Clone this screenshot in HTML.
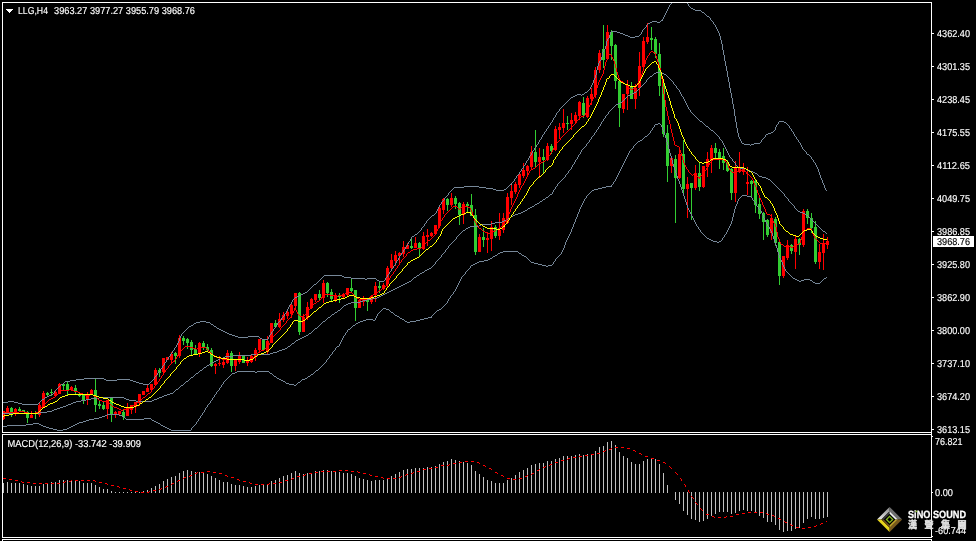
<!DOCTYPE html>
<html lang="en"><head><meta charset="utf-8"><title>LLG,H4</title>
<style>html,body{margin:0;padding:0;background:#000;overflow:hidden}body{width:976px;height:541px}svg{display:block}text{font-family:"Liberation Sans","Noto Sans CJK TC",sans-serif;fill:#fff;stroke:#fff;stroke-width:0.15px}</style></head><body>
<svg width="976" height="541" viewBox="0 0 976 541">
<rect width="976" height="541" fill="#000"/>
<defs><clipPath id="cm"><rect x="3" y="3" width="928" height="429"/></clipPath><clipPath id="cs"><rect x="3" y="435" width="928" height="102"/></clipPath></defs>
<g clip-path="url(#cm)" shape-rendering="crispEdges">
<path fill="#ff0000" d="M3 411h1v9h-1zM2 411h3v8h-3z"/>
<path fill="#ff0000" d="M7 406h1v7h-1zM6 408h3v4h-3z"/>
<path fill="#32cd32" d="M11 407h1v10h-1zM10 408h3v4h-3z"/>
<path fill="#ff0000" d="M15 408h1v8h-1zM14 409h3v3h-3z"/>
<path fill="#32cd32" d="M19 407h1v4h-1zM18 409h3v2h-3z"/>
<path fill="#32cd32" d="M23 410h1v2h-1zM22 410h3v2h-3z"/>
<path fill="#32cd32" d="M27 411h1v12h-1zM26 412h3v6h-3z"/>
<path fill="#ff0000" d="M31 411h1v7h-1zM30 415h3v3h-3z"/>
<path fill="#32cd32" d="M35 411h1v8h-1zM34 413h3v1h-3z"/>
<path fill="#ff0000" d="M39 402h1v15h-1zM38 405h3v10h-3z"/>
<path fill="#ff0000" d="M43 391h1v17h-1zM42 393h3v15h-3z"/>
<path fill="#32cd32" d="M47 392h1v4h-1zM46 393h3v2h-3z"/>
<path fill="#32cd32" d="M51 389h1v7h-1zM50 392h3v1h-3z"/>
<path fill="#ff0000" d="M55 391h1v6h-1zM54 392h3v4h-3z"/>
<path fill="#ff0000" d="M59 383h1v11h-1zM58 384h3v10h-3z"/>
<path fill="#32cd32" d="M63 383h1v7h-1zM62 384h3v2h-3z"/>
<path fill="#32cd32" d="M67 381h1v14h-1zM66 384h3v6h-3z"/>
<path fill="#ff0000" d="M71 386h1v5h-1zM70 387h3v3h-3z"/>
<path fill="#32cd32" d="M75 385h1v10h-1zM74 388h3v4h-3z"/>
<path fill="#32cd32" d="M79 393h1v4h-1zM78 395h3v1h-3z"/>
<path fill="#32cd32" d="M83 395h1v9h-1zM82 395h3v5h-3z"/>
<path fill="#ff0000" d="M87 392h1v13h-1zM86 395h3v5h-3z"/>
<path fill="#ff0000" d="M91 389h1v6h-1zM90 390h3v4h-3z"/>
<path fill="#32cd32" d="M95 379h1v33h-1zM94 390h3v15h-3z"/>
<path fill="#32cd32" d="M99 401h1v8h-1zM98 404h3v2h-3z"/>
<path fill="#32cd32" d="M103 402h1v8h-1zM102 405h3v4h-3z"/>
<path fill="#ff0000" d="M107 400h1v19h-1zM106 400h3v9h-3z"/>
<path fill="#32cd32" d="M111 398h1v24h-1zM110 398h3v16h-3z"/>
<path fill="#ff0000" d="M115 411h1v7h-1zM114 412h3v2h-3z"/>
<path fill="#ff0000" d="M119 411h1v4h-1zM118 411h3v3h-3z"/>
<path fill="#32cd32" d="M123 409h1v11h-1zM122 412h3v5h-3z"/>
<path fill="#ff0000" d="M127 403h1v13h-1zM126 408h3v8h-3z"/>
<path fill="#ff0000" d="M131 405h1v9h-1zM130 405h3v5h-3z"/>
<path fill="#ff0000" d="M135 402h1v11h-1zM134 402h3v5h-3z"/>
<path fill="#ff0000" d="M139 394h1v12h-1zM138 394h3v9h-3z"/>
<path fill="#ff0000" d="M143 391h1v4h-1zM142 391h3v4h-3z"/>
<path fill="#ff0000" d="M147 385h1v7h-1zM146 388h3v4h-3z"/>
<path fill="#ff0000" d="M151 384h1v8h-1zM150 384h3v6h-3z"/>
<path fill="#ff0000" d="M155 368h1v18h-1zM154 370h3v15h-3z"/>
<path fill="#32cd32" d="M159 368h1v9h-1zM158 370h3v3h-3z"/>
<path fill="#ff0000" d="M163 358h1v15h-1zM162 358h3v14h-3z"/>
<path fill="#ff0000" d="M167 357h1v3h-1zM166 357h3v3h-3z"/>
<path fill="#ff0000" d="M171 352h1v11h-1zM170 354h3v6h-3z"/>
<path fill="#32cd32" d="M175 352h1v12h-1zM174 353h3v3h-3z"/>
<path fill="#ff0000" d="M179 335h1v23h-1zM178 338h3v18h-3z"/>
<path fill="#32cd32" d="M183 336h1v9h-1zM182 338h3v3h-3z"/>
<path fill="#32cd32" d="M187 338h1v11h-1zM186 339h3v4h-3z"/>
<path fill="#32cd32" d="M191 340h1v15h-1zM190 342h3v8h-3z"/>
<path fill="#32cd32" d="M195 345h1v10h-1zM194 349h3v5h-3z"/>
<path fill="#ff0000" d="M199 342h1v15h-1zM198 343h3v10h-3z"/>
<path fill="#32cd32" d="M203 341h1v9h-1zM202 343h3v4h-3z"/>
<path fill="#32cd32" d="M207 344h1v7h-1zM206 347h3v3h-3z"/>
<path fill="#32cd32" d="M211 348h1v19h-1zM210 350h3v16h-3z"/>
<path fill="#ff0000" d="M215 363h1v11h-1zM214 364h3v2h-3z"/>
<path fill="#ff0000" d="M219 356h1v10h-1zM218 363h3v1h-3z"/>
<path fill="#ff0000" d="M223 360h1v8h-1zM222 362h3v3h-3z"/>
<path fill="#ff0000" d="M227 350h1v14h-1zM226 353h3v10h-3z"/>
<path fill="#32cd32" d="M231 351h1v21h-1zM230 353h3v13h-3z"/>
<path fill="#ff0000" d="M235 360h1v11h-1zM234 360h3v6h-3z"/>
<path fill="#ff0000" d="M239 352h1v12h-1zM238 356h3v6h-3z"/>
<path fill="#32cd32" d="M243 356h1v7h-1zM242 356h3v7h-3z"/>
<path fill="#ff0000" d="M247 357h1v9h-1zM246 360h3v3h-3z"/>
<path fill="#ff0000" d="M251 355h1v8h-1zM250 356h3v6h-3z"/>
<path fill="#ff0000" d="M255 348h1v13h-1zM254 350h3v6h-3z"/>
<path fill="#ff0000" d="M259 339h1v14h-1zM258 339h3v11h-3z"/>
<path fill="#32cd32" d="M263 339h1v12h-1zM262 339h3v11h-3z"/>
<path fill="#ff0000" d="M267 336h1v18h-1zM266 341h3v11h-3z"/>
<path fill="#ff0000" d="M271 323h1v20h-1zM270 323h3v20h-3z"/>
<path fill="#32cd32" d="M275 320h1v8h-1zM274 323h3v4h-3z"/>
<path fill="#ff0000" d="M279 313h1v15h-1zM278 319h3v8h-3z"/>
<path fill="#ff0000" d="M283 312h1v10h-1zM282 315h3v5h-3z"/>
<path fill="#ff0000" d="M287 311h1v8h-1zM286 312h3v4h-3z"/>
<path fill="#ff0000" d="M291 303h1v15h-1zM290 305h3v9h-3z"/>
<path fill="#ff0000" d="M295 293h1v17h-1zM294 293h3v13h-3z"/>
<path fill="#32cd32" d="M299 292h1v43h-1zM298 293h3v39h-3z"/>
<path fill="#ff0000" d="M303 314h1v18h-1zM302 317h3v15h-3z"/>
<path fill="#ff0000" d="M307 302h1v18h-1zM306 307h3v11h-3z"/>
<path fill="#ff0000" d="M311 298h1v11h-1zM310 299h3v9h-3z"/>
<path fill="#ff0000" d="M315 294h1v8h-1zM314 294h3v6h-3z"/>
<path fill="#32cd32" d="M319 290h1v11h-1zM318 294h3v4h-3z"/>
<path fill="#ff0000" d="M323 280h1v23h-1zM322 283h3v15h-3z"/>
<path fill="#32cd32" d="M327 282h1v15h-1zM326 283h3v10h-3z"/>
<path fill="#32cd32" d="M331 289h1v12h-1zM330 292h3v7h-3z"/>
<path fill="#ff0000" d="M335 293h1v9h-1zM334 295h3v5h-3z"/>
<path fill="#32cd32" d="M339 293h1v10h-1zM338 295h3v2h-3z"/>
<path fill="#ff0000" d="M343 293h1v5h-1zM342 294h3v3h-3z"/>
<path fill="#ff0000" d="M347 288h1v9h-1zM346 288h3v7h-3z"/>
<path fill="#32cd32" d="M351 279h1v14h-1zM350 288h3v3h-3z"/>
<path fill="#32cd32" d="M355 290h1v31h-1zM354 290h3v18h-3z"/>
<path fill="#ff0000" d="M359 299h1v9h-1zM358 300h3v8h-3z"/>
<path fill="#ff0000" d="M363 296h1v10h-1zM362 299h3v3h-3z"/>
<path fill="#32cd32" d="M367 300h1v11h-1zM366 300h3v2h-3z"/>
<path fill="#ff0000" d="M371 295h1v9h-1zM370 296h3v6h-3z"/>
<path fill="#ff0000" d="M375 282h1v20h-1zM374 286h3v9h-3z"/>
<path fill="#32cd32" d="M379 282h1v11h-1zM378 286h3v2h-3z"/>
<path fill="#ff0000" d="M383 283h1v7h-1zM382 285h3v4h-3z"/>
<path fill="#ff0000" d="M387 266h1v21h-1zM386 268h3v16h-3z"/>
<path fill="#ff0000" d="M391 254h1v15h-1zM390 260h3v8h-3z"/>
<path fill="#ff0000" d="M395 251h1v15h-1zM394 255h3v6h-3z"/>
<path fill="#ff0000" d="M399 252h1v12h-1zM398 253h3v3h-3z"/>
<path fill="#ff0000" d="M403 241h1v16h-1zM402 247h3v7h-3z"/>
<path fill="#ff0000" d="M407 243h1v6h-1zM406 245h3v4h-3z"/>
<path fill="#32cd32" d="M411 237h1v12h-1zM410 246h3v2h-3z"/>
<path fill="#ff0000" d="M415 237h1v11h-1zM414 243h3v5h-3z"/>
<path fill="#32cd32" d="M419 242h1v14h-1zM418 243h3v5h-3z"/>
<path fill="#ff0000" d="M423 232h1v18h-1zM422 236h3v13h-3z"/>
<path fill="#ff0000" d="M427 229h1v17h-1zM426 235h3v2h-3z"/>
<path fill="#ff0000" d="M431 232h1v5h-1zM430 233h3v3h-3z"/>
<path fill="#ff0000" d="M435 225h1v10h-1zM434 225h3v9h-3z"/>
<path fill="#ff0000" d="M439 205h1v23h-1zM438 208h3v18h-3z"/>
<path fill="#ff0000" d="M443 198h1v16h-1zM442 199h3v11h-3z"/>
<path fill="#32cd32" d="M447 198h1v13h-1zM446 199h3v6h-3z"/>
<path fill="#ff0000" d="M451 193h1v14h-1zM450 198h3v7h-3z"/>
<path fill="#32cd32" d="M455 196h1v13h-1zM454 198h3v6h-3z"/>
<path fill="#32cd32" d="M459 202h1v23h-1zM458 203h3v12h-3z"/>
<path fill="#ff0000" d="M463 202h1v22h-1zM462 204h3v11h-3z"/>
<path fill="#32cd32" d="M467 202h1v10h-1zM466 204h3v2h-3z"/>
<path fill="#32cd32" d="M471 194h1v22h-1zM470 205h3v11h-3z"/>
<path fill="#32cd32" d="M475 209h1v46h-1zM474 215h3v37h-3z"/>
<path fill="#ff0000" d="M479 234h1v18h-1zM478 237h3v15h-3z"/>
<path fill="#32cd32" d="M483 228h1v19h-1zM482 237h3v3h-3z"/>
<path fill="#ff0000" d="M487 232h1v21h-1zM486 238h3v2h-3z"/>
<path fill="#ff0000" d="M491 221h1v30h-1zM490 227h3v12h-3z"/>
<path fill="#32cd32" d="M495 225h1v13h-1zM494 227h3v9h-3z"/>
<path fill="#ff0000" d="M499 213h1v27h-1zM498 230h3v6h-3z"/>
<path fill="#ff0000" d="M503 213h1v20h-1zM502 218h3v12h-3z"/>
<path fill="#ff0000" d="M507 193h1v31h-1zM506 197h3v26h-3z"/>
<path fill="#ff0000" d="M511 184h1v21h-1zM510 191h3v7h-3z"/>
<path fill="#ff0000" d="M515 182h1v12h-1zM514 184h3v8h-3z"/>
<path fill="#ff0000" d="M519 173h1v15h-1zM518 174h3v11h-3z"/>
<path fill="#ff0000" d="M523 163h1v15h-1zM522 170h3v6h-3z"/>
<path fill="#ff0000" d="M527 165h1v10h-1zM526 166h3v5h-3z"/>
<path fill="#ff0000" d="M531 146h1v23h-1zM530 152h3v15h-3z"/>
<path fill="#32cd32" d="M535 130h1v37h-1zM534 152h3v10h-3z"/>
<path fill="#ff0000" d="M539 148h1v30h-1zM538 157h3v5h-3z"/>
<path fill="#32cd32" d="M543 149h1v24h-1zM542 157h3v3h-3z"/>
<path fill="#ff0000" d="M547 143h1v18h-1zM546 146h3v14h-3z"/>
<path fill="#32cd32" d="M551 144h1v10h-1zM550 146h3v5h-3z"/>
<path fill="#ff0000" d="M555 126h1v25h-1zM554 129h3v21h-3z"/>
<path fill="#ff0000" d="M559 123h1v16h-1zM558 127h3v3h-3z"/>
<path fill="#ff0000" d="M563 109h1v24h-1zM562 123h3v5h-3z"/>
<path fill="#32cd32" d="M567 116h1v14h-1zM566 123h3v1h-3z"/>
<path fill="#ff0000" d="M571 113h1v17h-1zM570 120h3v4h-3z"/>
<path fill="#ff0000" d="M575 112h1v12h-1zM574 115h3v6h-3z"/>
<path fill="#ff0000" d="M579 101h1v19h-1zM578 102h3v14h-3z"/>
<path fill="#32cd32" d="M583 97h1v21h-1zM582 103h3v12h-3z"/>
<path fill="#ff0000" d="M587 96h1v22h-1zM586 98h3v19h-3z"/>
<path fill="#ff0000" d="M591 88h1v17h-1zM590 94h3v5h-3z"/>
<path fill="#ff0000" d="M595 67h1v31h-1zM594 70h3v25h-3z"/>
<path fill="#ff0000" d="M599 50h1v23h-1zM598 53h3v17h-3z"/>
<path fill="#32cd32" d="M603 25h1v43h-1zM602 49h3v11h-3z"/>
<path fill="#ff0000" d="M607 25h1v35h-1zM606 32h3v27h-3z"/>
<path fill="#32cd32" d="M611 30h1v30h-1zM610 32h3v14h-3z"/>
<path fill="#32cd32" d="M615 44h1v45h-1zM614 45h3v36h-3z"/>
<path fill="#32cd32" d="M619 81h1v46h-1zM618 81h3v27h-3z"/>
<path fill="#ff0000" d="M623 94h1v19h-1zM622 94h3v15h-3z"/>
<path fill="#ff0000" d="M627 80h1v30h-1zM626 86h3v8h-3z"/>
<path fill="#32cd32" d="M631 82h1v17h-1zM630 86h3v13h-3z"/>
<path fill="#ff0000" d="M635 84h1v25h-1zM634 88h3v11h-3z"/>
<path fill="#ff0000" d="M639 52h1v44h-1zM638 66h3v22h-3z"/>
<path fill="#ff0000" d="M643 37h1v31h-1zM642 41h3v26h-3z"/>
<path fill="#ff0000" d="M647 23h1v21h-1zM646 37h3v5h-3z"/>
<path fill="#32cd32" d="M651 27h1v23h-1zM650 38h3v2h-3z"/>
<path fill="#32cd32" d="M655 37h1v21h-1zM654 39h3v15h-3z"/>
<path fill="#32cd32" d="M659 43h1v53h-1zM658 54h3v32h-3z"/>
<path fill="#32cd32" d="M663 81h1v56h-1zM662 85h3v49h-3z"/>
<path fill="#32cd32" d="M667 125h1v57h-1zM666 133h3v33h-3z"/>
<path fill="#ff0000" d="M671 158h1v15h-1zM670 158h3v8h-3z"/>
<path fill="#32cd32" d="M675 155h1v68h-1zM674 159h3v19h-3z"/>
<path fill="#ff0000" d="M679 147h1v32h-1zM678 154h3v24h-3z"/>
<path fill="#32cd32" d="M683 140h1v54h-1zM682 154h3v35h-3z"/>
<path fill="#ff0000" d="M687 177h1v41h-1zM686 184h3v5h-3z"/>
<path fill="#32cd32" d="M691 183h1v37h-1zM690 183h3v5h-3z"/>
<path fill="#ff0000" d="M695 165h1v25h-1zM694 173h3v15h-3z"/>
<path fill="#32cd32" d="M699 163h1v28h-1zM698 173h3v14h-3z"/>
<path fill="#ff0000" d="M703 166h1v22h-1zM702 166h3v21h-3z"/>
<path fill="#ff0000" d="M707 152h1v25h-1zM706 159h3v8h-3z"/>
<path fill="#ff0000" d="M711 145h1v28h-1zM710 148h3v12h-3z"/>
<path fill="#32cd32" d="M715 143h1v15h-1zM714 148h3v5h-3z"/>
<path fill="#32cd32" d="M719 149h1v20h-1zM718 152h3v6h-3z"/>
<path fill="#32cd32" d="M723 148h1v22h-1zM722 156h3v7h-3z"/>
<path fill="#32cd32" d="M727 160h1v12h-1zM726 163h3v8h-3z"/>
<path fill="#32cd32" d="M731 168h1v32h-1zM730 169h3v24h-3z"/>
<path fill="#ff0000" d="M735 161h1v41h-1zM734 168h3v25h-3z"/>
<path fill="#ff0000" d="M739 152h1v21h-1zM738 168h3v4h-3z"/>
<path fill="#ff0000" d="M743 163h1v12h-1zM742 169h3v3h-3z"/>
<path fill="#ff0000" d="M747 167h1v28h-1zM746 182h3v2h-3z"/>
<path fill="#32cd32" d="M751 180h1v17h-1zM750 181h3v3h-3z"/>
<path fill="#32cd32" d="M755 180h1v33h-1zM754 181h3v24h-3z"/>
<path fill="#32cd32" d="M759 198h1v21h-1zM758 204h3v10h-3z"/>
<path fill="#32cd32" d="M763 212h1v28h-1zM762 213h3v9h-3z"/>
<path fill="#32cd32" d="M767 219h1v18h-1zM766 220h3v15h-3z"/>
<path fill="#ff0000" d="M771 214h1v26h-1zM770 218h3v15h-3z"/>
<path fill="#32cd32" d="M775 217h1v29h-1zM774 219h3v24h-3z"/>
<path fill="#32cd32" d="M779 242h1v43h-1zM778 242h3v34h-3z"/>
<path fill="#ff0000" d="M783 256h1v22h-1zM782 256h3v20h-3z"/>
<path fill="#ff0000" d="M787 240h1v20h-1zM786 245h3v13h-3z"/>
<path fill="#32cd32" d="M791 244h1v10h-1zM790 245h3v6h-3z"/>
<path fill="#ff0000" d="M795 236h1v33h-1zM794 239h3v13h-3z"/>
<path fill="#32cd32" d="M799 238h1v17h-1zM798 239h3v6h-3z"/>
<path fill="#ff0000" d="M803 209h1v38h-1zM802 211h3v34h-3z"/>
<path fill="#32cd32" d="M807 209h1v15h-1zM806 211h3v7h-3z"/>
<path fill="#32cd32" d="M811 213h1v20h-1zM810 218h3v10h-3z"/>
<path fill="#32cd32" d="M815 221h1v43h-1zM814 227h3v35h-3z"/>
<path fill="#ff0000" d="M819 244h1v25h-1zM818 252h3v10h-3z"/>
<path fill="#ff0000" d="M823 234h1v36h-1zM822 244h3v9h-3z"/>
<path fill="#ff0000" d="M827 237h1v12h-1zM826 241h3v4h-3z"/>
</g>
<path clip-path="url(#cm)" fill="#778899" shape-rendering="crispEdges" d="M3 402h5v1h-5zM8 401h6v1h-6zM14 402h4v1h-4zM18 403h4v1h-4zM22 404h16v1h-16zM38 403h1v1h-1zM39 402h1v1h-1zM40 401h1v1h-1zM41 400h1v1h-1zM42 399h2v1h-2zM44 398h1v1h-1zM45 397h2v1h-2zM47 396h2v1h-2zM49 395h2v1h-2zM51 394h2v1h-2zM53 393h1v1h-1zM54 391h1v2h-1zM55 390h1v1h-1zM56 389h1v1h-1zM57 388h1v1h-1zM58 387h1v1h-1zM59 386h1v1h-1zM60 385h1v1h-1zM61 384h2v1h-2zM63 383h1v1h-1zM64 382h1v1h-1zM65 381h5v1h-5zM70 380h6v1h-6zM76 379h8v1h-8zM84 378h20v1h-20zM104 379h2v1h-2zM106 380h11v1h-11zM117 379h13v1h-13zM130 380h3v1h-3zM133 381h3v1h-3zM136 382h3v1h-3zM139 383h4v1h-4zM143 384h6v1h-6zM149 383h1v1h-1zM150 382h1v1h-1zM151 381h1v1h-1zM152 380h1v1h-1zM153 379h1v1h-1zM154 377h1v2h-1zM155 376h1v1h-1zM156 375h1v1h-1zM157 373h1v2h-1zM158 372h1v1h-1zM159 371h1v1h-1zM160 369h1v2h-1zM161 368h1v1h-1zM162 366h1v2h-1zM163 365h1v1h-1zM164 363h1v2h-1zM165 362h1v1h-1zM166 360h1v2h-1zM167 359h1v1h-1zM168 357h1v2h-1zM169 356h1v1h-1zM170 354h1v2h-1zM171 353h1v1h-1zM172 351h1v2h-1zM173 350h1v1h-1zM174 348h1v2h-1zM175 347h1v1h-1zM176 345h1v2h-1zM177 343h1v2h-1zM178 341h1v2h-1zM179 338h1v3h-1zM180 336h1v2h-1zM181 334h1v2h-1zM182 333h1v1h-1zM183 332h1v1h-1zM184 331h1v1h-1zM185 330h1v1h-1zM186 329h1v1h-1zM187 328h1v1h-1zM188 327h1v1h-1zM189 326h2v1h-2zM191 325h2v1h-2zM193 324h1v1h-1zM194 323h2v1h-2zM196 322h4v1h-4zM200 321h6v1h-6zM206 322h4v1h-4zM210 323h1v1h-1zM211 324h2v1h-2zM213 325h1v1h-1zM214 326h2v1h-2zM216 327h1v1h-1zM217 328h2v1h-2zM219 329h2v1h-2zM221 330h2v1h-2zM223 331h2v1h-2zM225 332h2v1h-2zM227 333h2v1h-2zM229 334h3v1h-3zM232 335h3v1h-3zM235 336h3v1h-3zM238 337h10v1h-10zM248 336h11v1h-11zM259 337h1v1h-1zM260 338h2v1h-2zM262 339h6v1h-6zM268 337h1v2h-1zM269 335h1v2h-1zM270 334h1v1h-1zM271 332h1v2h-1zM272 331h1v1h-1zM273 329h1v2h-1zM274 328h1v1h-1zM275 326h1v2h-1zM276 325h1v1h-1zM277 323h1v2h-1zM278 322h1v1h-1zM279 321h1v1h-1zM280 320h1v1h-1zM281 318h1v2h-1zM282 317h1v1h-1zM283 316h1v1h-1zM284 314h1v2h-1zM285 313h1v1h-1zM286 311h1v2h-1zM287 309h1v2h-1zM288 307h1v2h-1zM289 305h1v2h-1zM290 304h1v1h-1zM291 302h1v2h-1zM292 300h1v2h-1zM293 299h1v1h-1zM294 298h1v1h-1zM295 297h2v1h-2zM297 296h2v1h-2zM299 295h2v1h-2zM301 294h2v1h-2zM303 293h2v1h-2zM305 292h2v1h-2zM307 291h1v1h-1zM308 290h1v1h-1zM309 289h1v1h-1zM310 288h1v1h-1zM311 287h1v1h-1zM312 286h1v1h-1zM313 285h1v1h-1zM314 284h2v1h-2zM316 283h1v1h-1zM317 282h1v1h-1zM318 281h1v1h-1zM319 280h1v1h-1zM320 279h1v1h-1zM321 278h1v1h-1zM322 277h1v1h-1zM323 276h1v1h-1zM324 275h18v1h-18zM342 276h2v1h-2zM344 277h7v1h-7zM351 278h14v1h-14zM365 279h2v1h-2zM367 278h9v1h-9zM376 279h1v1h-1zM377 280h2v1h-2zM379 281h5v1h-5zM384 280h1v1h-1zM385 278h1v2h-1zM386 277h1v1h-1zM387 275h1v2h-1zM388 274h1v1h-1zM389 272h1v2h-1zM390 271h1v1h-1zM391 269h1v2h-1zM392 268h1v1h-1zM393 266h1v2h-1zM394 265h1v1h-1zM395 263h1v2h-1zM396 261h1v2h-1zM397 260h1v1h-1zM398 258h1v2h-1zM399 256h1v2h-1zM400 255h1v1h-1zM401 253h1v2h-1zM402 252h1v1h-1zM403 250h1v2h-1zM404 249h1v1h-1zM405 247h1v2h-1zM406 246h1v1h-1zM407 244h1v2h-1zM408 242h1v2h-1zM409 241h1v1h-1zM410 239h1v2h-1zM411 237h1v2h-1zM412 236h2v1h-2zM414 235h1v1h-1zM415 234h2v1h-2zM417 233h1v1h-1zM418 232h1v1h-1zM419 231h1v1h-1zM420 230h1v1h-1zM421 228h1v2h-1zM422 227h1v1h-1zM423 226h1v1h-1zM424 224h1v2h-1zM425 223h1v1h-1zM426 221h1v2h-1zM427 220h1v1h-1zM428 219h1v1h-1zM429 218h1v1h-1zM430 217h1v1h-1zM431 216h1v1h-1zM432 215h2v1h-2zM434 214h1v1h-1zM435 213h1v1h-1zM436 211h1v2h-1zM437 209h1v2h-1zM438 207h1v2h-1zM439 205h1v2h-1zM440 204h1v1h-1zM441 202h1v2h-1zM442 201h1v1h-1zM443 200h1v1h-1zM444 198h1v2h-1zM445 197h1v1h-1zM446 196h1v1h-1zM447 195h1v1h-1zM448 193h1v2h-1zM449 192h1v1h-1zM450 191h1v1h-1zM451 190h1v1h-1zM452 189h1v1h-1zM453 188h1v1h-1zM454 187h10v1h-10zM464 186h15v1h-15zM479 187h7v1h-7zM486 188h7v1h-7zM493 189h3v1h-3zM496 190h8v1h-8zM504 189h2v1h-2zM506 188h1v1h-1zM507 187h1v1h-1zM508 186h1v1h-1zM509 185h1v1h-1zM510 184h1v1h-1zM511 183h1v2h-1zM512 182h1v1h-1zM513 181h1v1h-1zM514 179h1v2h-1zM515 178h1v1h-1zM516 176h1v2h-1zM517 175h1v1h-1zM518 174h1v1h-1zM519 172h1v2h-1zM520 171h1v1h-1zM521 169h1v2h-1zM522 168h1v1h-1zM523 166h1v2h-1zM524 165h1v1h-1zM525 163h1v2h-1zM526 161h1v2h-1zM527 160h1v1h-1zM528 158h1v2h-1zM529 156h1v2h-1zM530 155h1v1h-1zM531 153h1v2h-1zM532 151h1v2h-1zM533 150h1v1h-1zM534 148h1v2h-1zM535 147h1v1h-1zM536 145h1v2h-1zM537 144h1v1h-1zM538 142h1v2h-1zM539 140h1v2h-1zM540 139h1v1h-1zM541 137h1v2h-1zM542 135h1v2h-1zM543 134h1v1h-1zM544 132h1v2h-1zM545 131h1v1h-1zM546 129h1v2h-1zM547 128h1v1h-1zM548 126h1v2h-1zM549 125h1v1h-1zM550 123h1v2h-1zM551 122h1v1h-1zM552 120h1v2h-1zM553 118h1v2h-1zM554 117h1v1h-1zM555 115h1v2h-1zM556 113h1v2h-1zM557 112h1v1h-1zM558 111h1v1h-1zM559 109h1v2h-1zM560 108h1v1h-1zM561 107h1v1h-1zM562 106h1v1h-1zM563 105h1v1h-1zM564 104h1v1h-1zM565 103h1v1h-1zM566 102h1v1h-1zM567 101h1v1h-1zM568 100h1v1h-1zM569 99h1v1h-1zM570 98h1v1h-1zM571 97h2v1h-2zM573 96h2v1h-2zM575 95h2v1h-2zM577 94h4v1h-4zM581 95h1v1h-1zM582 94h2v1h-2zM584 93h1v1h-1zM585 92h2v1h-2zM587 91h1v1h-1zM588 90h1v1h-1zM589 89h1v1h-1zM590 87h1v2h-1zM591 85h1v2h-1zM592 83h1v2h-1zM593 80h1v3h-1zM594 78h1v2h-1zM595 75h1v3h-1zM596 70h1v5h-1zM597 66h1v4h-1zM598 63h1v3h-1zM599 61h1v2h-1zM600 60h1v1h-1zM601 57h1v3h-1zM602 52h1v5h-1zM603 50h1v2h-1zM604 49h1v1h-1zM605 46h1v3h-1zM606 41h1v5h-1zM607 39h1v2h-1zM608 38h1v1h-1zM609 35h1v3h-1zM610 32h1v3h-1zM611 31h6v1h-6zM617 32h3v1h-3zM620 33h3v1h-3zM623 34h2v1h-2zM625 35h3v1h-3zM628 36h2v1h-2zM630 37h5v1h-5zM635 36h4v1h-4zM639 35h1v1h-1zM640 34h1v1h-1zM641 32h1v2h-1zM642 30h1v2h-1zM643 29h1v1h-1zM644 28h1v1h-1zM645 27h1v1h-1zM646 25h1v2h-1zM647 24h1v1h-1zM648 23h2v1h-2zM650 22h2v1h-2zM652 21h5v1h-5zM657 22h3v1h-3zM660 21h1v1h-1zM661 20h1v1h-1zM662 19h1v2h-1zM663 17h1v2h-1zM664 15h1v2h-1zM665 13h1v2h-1zM666 11h1v2h-1zM667 9h1v2h-1zM668 7h1v2h-1zM669 5h1v2h-1zM670 4h1v1h-1zM671 3h1v1h-1zM672 2h1v1h-1zM673 1h1v1h-1zM674 0h2v1h-2zM676 -1h2v1h-2zM678 -2h5v1h-5zM683 -1h2v1h-2zM685 0h1v1h-1zM686 1h1v2h-1zM687 3h1v1h-1zM688 4h1v2h-1zM689 6h1v1h-1zM690 7h1v1h-1zM691 8h2v1h-2zM693 9h2v1h-2zM695 10h6v1h-6zM701 11h1v1h-1zM702 12h2v1h-2zM704 13h1v1h-1zM705 14h1v1h-1zM706 15h1v1h-1zM707 16h2v1h-2zM709 17h1v1h-1zM710 18h1v2h-1zM711 20h1v1h-1zM712 21h1v1h-1zM713 22h1v2h-1zM714 24h1v1h-1zM715 25h1v2h-1zM716 27h1v2h-1zM717 29h1v2h-1zM718 31h1v2h-1zM719 33h1v3h-1zM720 36h1v4h-1zM721 40h1v4h-1zM722 44h1v6h-1zM723 50h1v5h-1zM724 55h1v6h-1zM725 61h1v5h-1zM726 66h1v5h-1zM727 71h1v6h-1zM728 77h1v5h-1zM729 82h1v6h-1zM730 88h1v5h-1zM731 93h1v5h-1zM732 98h1v6h-1zM733 104h1v5h-1zM734 109h1v7h-1zM735 116h1v6h-1zM736 122h1v6h-1zM737 128h1v5h-1zM738 133h1v4h-1zM739 137h1v2h-1zM740 139h1v2h-1zM741 141h1v2h-1zM742 143h2v1h-2zM744 144h6v1h-6zM750 145h1v1h-1zM751 144h3v1h-3zM754 143h6v1h-6zM760 142h1v1h-1zM761 140h1v2h-1zM762 139h1v1h-1zM763 138h1v1h-1zM764 137h1v1h-1zM765 135h1v2h-1zM766 134h2v1h-2zM768 133h3v1h-3zM771 132h2v1h-2zM773 131h1v1h-1zM774 130h1v1h-1zM775 127h1v3h-1zM776 125h1v2h-1zM777 124h1v1h-1zM778 122h1v2h-1zM779 121h5v1h-5zM784 122h2v1h-2zM786 123h1v1h-1zM787 124h1v1h-1zM788 125h1v1h-1zM789 126h1v2h-1zM790 128h1v1h-1zM791 129h1v2h-1zM792 131h1v1h-1zM793 132h1v2h-1zM794 134h1v2h-1zM795 136h1v1h-1zM796 137h1v2h-1zM797 139h1v1h-1zM798 140h1v2h-1zM799 142h1v1h-1zM800 143h1v2h-1zM801 145h1v2h-1zM802 147h1v2h-1zM803 149h1v1h-1zM804 150h1v1h-1zM805 151h1v1h-1zM806 152h1v2h-1zM807 154h2v1h-2zM809 155h1v1h-1zM810 156h1v1h-1zM811 157h1v2h-1zM812 159h1v1h-1zM813 160h1v2h-1zM814 162h1v1h-1zM815 163h1v2h-1zM816 165h1v2h-1zM817 167h1v2h-1zM818 169h1v3h-1zM819 172h1v3h-1zM820 175h1v3h-1zM821 178h1v2h-1zM822 180h1v3h-1zM823 183h1v2h-1zM824 185h1v3h-1zM825 188h1v2h-1zM826 190h1v1h-1z"/>
<path clip-path="url(#cm)" fill="#778899" shape-rendering="crispEdges" d="M3 413h37v1h-37zM40 412h7v1h-7zM47 411h5v1h-5zM52 410h2v1h-2zM54 409h3v1h-3zM57 408h3v1h-3zM60 407h3v1h-3zM63 406h3v1h-3zM66 405h2v1h-2zM68 404h3v1h-3zM71 403h2v1h-2zM73 402h3v1h-3zM76 401h5v1h-5zM81 400h5v1h-5zM86 399h5v1h-5zM91 398h8v1h-8zM99 397h25v1h-25zM124 398h2v1h-2zM126 399h3v1h-3zM129 400h7v1h-7zM136 401h16v1h-16zM152 400h2v1h-2zM154 399h3v1h-3zM157 398h2v1h-2zM159 397h3v1h-3zM162 396h2v1h-2zM164 395h3v1h-3zM167 394h3v1h-3zM170 393h3v1h-3zM173 392h1v1h-1zM174 391h1v1h-1zM175 390h1v1h-1zM176 389h2v1h-2zM178 388h1v1h-1zM179 387h1v1h-1zM180 386h1v1h-1zM181 385h2v1h-2zM183 384h1v1h-1zM184 383h1v1h-1zM185 382h1v1h-1zM186 381h2v1h-2zM188 380h1v1h-1zM189 379h1v1h-1zM190 378h1v1h-1zM191 377h2v1h-2zM193 376h1v1h-1zM194 375h1v1h-1zM195 374h1v1h-1zM196 373h2v1h-2zM198 372h1v1h-1zM199 371h1v1h-1zM200 370h2v1h-2zM202 369h1v1h-1zM203 368h1v1h-1zM204 367h2v1h-2zM206 366h1v1h-1zM207 365h2v1h-2zM209 364h1v1h-1zM210 363h2v1h-2zM212 362h2v1h-2zM214 361h2v1h-2zM216 360h2v1h-2zM218 359h2v1h-2zM220 358h3v1h-3zM223 357h2v1h-2zM225 356h8v1h-8zM233 355h18v1h-18zM251 354h19v1h-19zM270 353h3v1h-3zM273 352h4v1h-4zM277 351h2v1h-2zM279 350h3v1h-3zM282 349h3v1h-3zM285 348h2v1h-2zM287 347h1v1h-1zM288 346h2v1h-2zM290 345h1v1h-1zM291 344h1v1h-1zM292 343h2v1h-2zM294 342h1v1h-1zM295 341h1v1h-1zM296 340h2v1h-2zM298 339h2v1h-2zM300 338h2v1h-2zM302 337h2v1h-2zM304 336h2v1h-2zM306 335h2v1h-2zM308 334h1v1h-1zM309 333h2v1h-2zM311 332h1v1h-1zM312 331h1v1h-1zM313 330h1v1h-1zM314 329h1v1h-1zM315 328h2v1h-2zM317 327h1v1h-1zM318 326h1v1h-1zM319 325h1v1h-1zM320 324h1v1h-1zM321 323h1v1h-1zM322 322h1v1h-1zM323 321h2v1h-2zM325 320h1v1h-1zM326 319h1v1h-1zM327 318h1v1h-1zM328 317h2v1h-2zM330 316h1v1h-1zM331 315h1v1h-1zM332 314h2v1h-2zM334 313h1v1h-1zM335 312h2v1h-2zM337 311h1v1h-1zM338 310h2v1h-2zM340 309h1v1h-1zM341 308h1v1h-1zM342 307h1v1h-1zM343 306h1v1h-1zM344 305h2v1h-2zM346 304h2v1h-2zM348 303h3v1h-3zM351 302h9v1h-9zM360 301h3v1h-3zM363 300h4v1h-4zM367 299h5v1h-5zM372 298h5v1h-5zM377 297h2v1h-2zM379 296h2v1h-2zM381 295h2v1h-2zM383 294h2v1h-2zM385 293h2v1h-2zM387 292h2v1h-2zM389 291h2v1h-2zM391 290h2v1h-2zM393 289h2v1h-2zM395 288h2v1h-2zM397 287h2v1h-2zM399 286h2v1h-2zM401 285h2v1h-2zM403 284h2v1h-2zM405 283h2v1h-2zM407 282h2v1h-2zM409 281h2v1h-2zM411 280h1v1h-1zM412 279h1v1h-1zM413 278h1v1h-1zM414 277h2v1h-2zM416 276h1v1h-1zM417 275h2v1h-2zM419 274h1v1h-1zM420 273h2v1h-2zM422 272h2v1h-2zM424 271h1v1h-1zM425 270h2v1h-2zM427 269h2v1h-2zM429 268h2v1h-2zM431 267h1v1h-1zM432 266h1v1h-1zM433 265h1v1h-1zM434 264h1v1h-1zM435 262h1v2h-1zM436 261h1v1h-1zM437 260h1v1h-1zM438 259h1v1h-1zM439 258h1v1h-1zM440 257h1v1h-1zM441 255h1v2h-1zM442 254h1v1h-1zM443 253h1v1h-1zM444 252h1v1h-1zM445 250h1v2h-1zM446 249h1v1h-1zM447 248h1v1h-1zM448 246h1v2h-1zM449 245h1v1h-1zM450 244h1v1h-1zM451 243h1v1h-1zM452 242h1v1h-1zM453 241h1v1h-1zM454 240h1v1h-1zM455 239h1v1h-1zM456 237h1v2h-1zM457 236h1v1h-1zM458 235h1v1h-1zM459 234h1v1h-1zM460 233h1v1h-1zM461 232h1v1h-1zM462 231h1v1h-1zM463 230h2v1h-2zM465 229h1v1h-1zM466 228h2v1h-2zM468 227h2v1h-2zM470 226h9v1h-9zM479 225h2v1h-2zM481 224h10v1h-10zM491 223h4v1h-4zM495 222h7v1h-7zM502 221h2v1h-2zM504 220h2v1h-2zM506 219h2v1h-2zM508 218h2v1h-2zM510 217h1v1h-1zM511 216h2v1h-2zM513 215h2v1h-2zM515 214h3v1h-3zM518 213h3v1h-3zM521 212h2v1h-2zM523 211h2v1h-2zM525 210h2v1h-2zM527 209h1v1h-1zM528 208h2v1h-2zM530 207h2v1h-2zM532 206h2v1h-2zM534 205h1v1h-1zM535 204h2v1h-2zM537 203h2v1h-2zM539 202h1v1h-1zM540 201h2v1h-2zM542 200h1v1h-1zM543 199h2v1h-2zM545 198h1v1h-1zM546 197h2v1h-2zM548 196h1v1h-1zM549 195h1v1h-1zM550 194h2v1h-2zM552 192h1v2h-1zM553 190h1v2h-1zM554 189h1v1h-1zM555 187h1v2h-1zM556 186h1v1h-1zM557 184h1v2h-1zM558 183h1v1h-1zM559 182h1v1h-1zM560 181h1v1h-1zM561 180h1v1h-1zM562 179h1v1h-1zM563 178h1v1h-1zM564 177h1v1h-1zM565 175h1v2h-1zM566 174h1v1h-1zM567 173h1v1h-1zM568 171h1v2h-1zM569 170h1v1h-1zM570 169h1v1h-1zM571 167h1v2h-1zM572 165h1v2h-1zM573 164h1v1h-1zM574 162h1v2h-1zM575 160h1v2h-1zM576 159h1v1h-1zM577 157h1v2h-1zM578 155h1v2h-1zM579 154h1v1h-1zM580 152h1v2h-1zM581 150h1v2h-1zM582 149h1v1h-1zM583 148h1v1h-1zM584 147h1v1h-1zM585 146h1v1h-1zM586 144h1v2h-1zM587 143h1v1h-1zM588 142h1v1h-1zM589 140h1v2h-1zM590 139h1v1h-1zM591 137h1v2h-1zM592 136h1v1h-1zM593 135h1v1h-1zM594 133h1v2h-1zM595 132h1v1h-1zM596 130h1v2h-1zM597 129h1v1h-1zM598 127h1v2h-1zM599 126h1v1h-1zM600 124h1v2h-1zM601 122h1v2h-1zM602 121h1v1h-1zM603 119h1v2h-1zM604 118h1v1h-1zM605 116h1v2h-1zM606 115h1v1h-1zM607 114h1v1h-1zM608 112h1v2h-1zM609 111h1v1h-1zM610 110h1v1h-1zM611 109h1v1h-1zM612 108h1v1h-1zM613 107h1v1h-1zM614 106h1v1h-1zM615 105h1v1h-1zM616 104h2v1h-2zM618 103h2v1h-2zM620 102h2v1h-2zM622 101h1v1h-1zM623 100h1v1h-1zM624 99h1v1h-1zM625 98h1v1h-1zM626 97h1v1h-1zM627 96h1v1h-1zM628 95h2v1h-2zM630 94h2v1h-2zM632 93h2v1h-2zM634 92h2v1h-2zM636 91h1v1h-1zM637 90h1v1h-1zM638 89h1v1h-1zM639 88h1v1h-1zM640 87h1v1h-1zM641 86h1v1h-1zM642 85h1v1h-1zM643 84h1v1h-1zM644 83h1v1h-1zM645 82h1v1h-1zM646 80h1v2h-1zM647 79h1v1h-1zM648 78h1v1h-1zM649 77h1v1h-1zM650 76h2v1h-2zM652 75h1v1h-1zM653 74h1v1h-1zM654 73h2v1h-2zM656 72h6v1h-6zM662 73h2v1h-2zM664 74h2v1h-2zM666 75h1v1h-1zM667 76h1v1h-1zM668 77h1v1h-1zM669 78h1v1h-1zM670 79h1v1h-1zM671 80h1v1h-1zM672 81h1v1h-1zM673 82h1v2h-1zM674 84h1v1h-1zM675 85h1v1h-1zM676 86h1v2h-1zM677 88h1v1h-1zM678 89h1v1h-1zM679 90h1v2h-1zM680 92h1v2h-1zM681 94h1v2h-1zM682 96h1v1h-1zM683 97h1v2h-1zM684 99h1v2h-1zM685 101h1v2h-1zM686 103h1v2h-1zM687 105h1v2h-1zM688 107h1v2h-1zM689 109h1v1h-1zM690 110h1v2h-1zM691 112h1v1h-1zM692 113h1v1h-1zM693 114h1v1h-1zM694 115h1v1h-1zM695 116h1v1h-1zM696 117h1v1h-1zM697 118h1v1h-1zM698 119h1v1h-1zM699 120h1v1h-1zM700 121h2v1h-2zM702 122h1v1h-1zM703 123h1v1h-1zM704 124h1v1h-1zM705 125h1v1h-1zM706 126h2v1h-2zM708 127h1v1h-1zM709 128h1v1h-1zM710 129h1v1h-1zM711 130h2v1h-2zM713 131h1v1h-1zM714 132h1v1h-1zM715 133h1v1h-1zM716 134h1v1h-1zM717 135h1v1h-1zM718 136h1v1h-1zM719 137h1v2h-1zM720 139h1v1h-1zM721 140h1v1h-1zM722 141h1v2h-1zM723 143h1v2h-1zM724 145h1v2h-1zM725 147h1v2h-1zM726 149h1v2h-1zM727 151h1v2h-1zM728 153h1v2h-1zM729 155h1v2h-1zM730 157h1v1h-1zM731 158h1v1h-1zM732 159h1v2h-1zM733 161h1v1h-1zM734 162h1v1h-1zM735 163h1v2h-1zM736 165h1v1h-1zM737 166h1v1h-1zM738 167h2v1h-2zM740 168h6v1h-6zM746 169h1v1h-1zM747 170h3v1h-3zM750 171h3v1h-3zM753 172h2v1h-2zM755 173h2v1h-2zM757 174h1v1h-1zM758 175h1v1h-1zM759 176h3v1h-3zM762 177h4v1h-4zM766 178h2v1h-2zM768 179h2v1h-2zM770 180h1v1h-1zM771 181h1v1h-1zM772 182h1v1h-1zM773 183h1v1h-1zM774 184h1v1h-1zM775 185h1v1h-1zM776 186h1v1h-1zM777 187h1v1h-1zM778 188h1v1h-1zM779 189h1v1h-1zM780 190h1v1h-1zM781 191h1v1h-1zM782 192h1v1h-1zM783 193h1v1h-1zM784 194h1v2h-1zM785 196h1v1h-1zM786 197h1v1h-1zM787 198h1v1h-1zM788 199h1v2h-1zM789 201h1v1h-1zM790 202h1v1h-1zM791 203h1v1h-1zM792 204h1v1h-1zM793 205h1v1h-1zM794 206h1v2h-1zM795 208h1v1h-1zM796 209h1v1h-1zM797 210h1v1h-1zM798 211h2v1h-2zM800 212h3v1h-3zM803 213h2v1h-2zM805 214h1v1h-1zM806 215h2v1h-2zM808 216h1v1h-1zM809 217h1v1h-1zM810 218h1v1h-1zM811 219h1v1h-1zM812 220h1v1h-1zM813 221h1v1h-1zM814 222h1v1h-1zM815 223h1v1h-1zM816 224h1v1h-1zM817 225h1v1h-1zM818 226h1v1h-1zM819 227h1v1h-1zM820 228h1v1h-1zM821 229h1v1h-1zM822 230h1v1h-1zM823 231h2v1h-2zM825 232h1v1h-1zM826 233h1v1h-1z"/>
<path clip-path="url(#cm)" fill="#778899" shape-rendering="crispEdges" d="M3 426h4v1h-4zM7 425h19v1h-19zM26 424h7v1h-7zM33 423h6v1h-6zM39 424h2v1h-2zM41 425h2v1h-2zM43 426h3v1h-3zM46 427h3v1h-3zM49 428h4v1h-4zM53 429h4v1h-4zM57 430h6v1h-6zM63 429h4v1h-4zM67 428h2v1h-2zM69 427h2v1h-2zM71 426h2v1h-2zM73 425h2v1h-2zM75 424h2v1h-2zM77 423h2v1h-2zM79 422h4v1h-4zM83 421h3v1h-3zM86 420h3v1h-3zM89 419h5v1h-5zM94 418h5v1h-5zM99 417h3v1h-3zM102 416h3v1h-3zM105 415h2v1h-2zM107 414h12v1h-12zM119 415h3v1h-3zM122 416h2v1h-2zM124 417h1v1h-1zM125 418h1v1h-1zM126 419h18v1h-18zM144 418h7v1h-7zM151 419h1v1h-1zM152 420h2v1h-2zM154 421h2v1h-2zM156 422h2v1h-2zM158 423h2v1h-2zM160 424h1v1h-1zM161 425h2v1h-2zM163 426h2v1h-2zM165 427h2v1h-2zM167 428h2v1h-2zM169 429h2v1h-2zM171 430h20v1h-20zM191 428h1v2h-1zM192 427h1v1h-1zM193 426h1v1h-1zM194 425h1v1h-1zM195 424h1v1h-1zM196 422h1v2h-1zM197 421h1v1h-1zM198 419h1v2h-1zM199 418h1v1h-1zM200 416h1v2h-1zM201 415h1v1h-1zM202 413h1v2h-1zM203 412h1v1h-1zM204 410h1v2h-1zM205 408h1v2h-1zM206 407h1v1h-1zM207 405h1v2h-1zM208 404h1v1h-1zM209 403h1v1h-1zM210 401h1v2h-1zM211 400h1v1h-1zM212 398h1v2h-1zM213 397h1v1h-1zM214 395h1v2h-1zM215 394h1v1h-1zM216 392h1v2h-1zM217 391h1v1h-1zM218 390h1v1h-1zM219 388h1v2h-1zM220 387h1v1h-1zM221 385h1v2h-1zM222 384h1v1h-1zM223 382h1v2h-1zM224 381h1v1h-1zM225 380h1v1h-1zM226 379h1v1h-1zM227 378h1v1h-1zM228 377h1v1h-1zM229 376h1v1h-1zM230 375h1v1h-1zM231 374h1v1h-1zM232 373h3v1h-3zM235 372h2v1h-2zM237 371h18v1h-18zM255 372h2v1h-2zM257 371h12v1h-12zM269 372h1v1h-1zM270 373h2v1h-2zM272 374h1v1h-1zM273 375h1v1h-1zM274 376h2v1h-2zM276 377h1v1h-1zM277 378h2v1h-2zM279 379h2v1h-2zM281 380h2v1h-2zM283 381h2v1h-2zM285 382h1v1h-1zM286 383h3v1h-3zM289 384h5v1h-5zM294 385h2v1h-2zM296 384h1v1h-1zM297 383h1v1h-1zM298 382h2v1h-2zM300 381h1v1h-1zM301 380h1v1h-1zM302 379h3v1h-3zM305 378h2v1h-2zM307 377h1v1h-1zM308 376h2v1h-2zM310 375h1v1h-1zM311 374h2v1h-2zM313 373h1v1h-1zM314 372h1v1h-1zM315 371h1v1h-1zM316 370h2v1h-2zM318 369h1v1h-1zM319 368h1v1h-1zM320 367h1v1h-1zM321 366h1v1h-1zM322 365h1v1h-1zM323 364h1v1h-1zM324 363h1v1h-1zM325 362h1v1h-1zM326 360h1v2h-1zM327 359h1v1h-1zM328 358h1v1h-1zM329 356h1v2h-1zM330 355h1v1h-1zM331 354h1v1h-1zM332 352h1v2h-1zM333 351h1v1h-1zM334 350h1v1h-1zM335 348h1v2h-1zM336 347h1v1h-1zM337 346h2v1h-2zM339 344h1v2h-1zM340 342h1v2h-1zM341 340h1v2h-1zM342 338h1v2h-1zM343 336h1v2h-1zM344 335h1v1h-1zM345 333h1v2h-1zM346 332h1v1h-1zM347 330h1v2h-1zM348 329h2v1h-2zM350 328h1v1h-1zM351 327h1v1h-1zM352 326h1v1h-1zM353 325h2v1h-2zM355 324h1v1h-1zM356 323h2v1h-2zM358 322h2v1h-2zM360 321h3v1h-3zM363 320h3v1h-3zM366 319h7v1h-7zM373 320h2v1h-2zM375 318h1v2h-1zM376 316h1v2h-1zM377 314h1v2h-1zM378 313h1v1h-1zM379 312h1v1h-1zM380 311h1v1h-1zM381 310h1v1h-1zM382 309h1v1h-1zM383 308h3v1h-3zM386 309h3v1h-3zM389 310h1v1h-1zM390 311h1v1h-1zM391 312h2v1h-2zM393 313h1v1h-1zM394 314h1v1h-1zM395 315h2v1h-2zM397 316h2v1h-2zM399 317h1v1h-1zM400 318h2v1h-2zM402 319h2v1h-2zM404 320h1v1h-1zM405 321h2v1h-2zM407 322h3v1h-3zM410 321h6v1h-6zM416 320h4v1h-4zM420 319h4v1h-4zM424 318h4v1h-4zM428 317h3v1h-3zM431 316h1v2h-1zM432 315h1v1h-1zM433 314h1v1h-1zM434 313h1v1h-1zM435 312h1v1h-1zM436 311h1v1h-1zM437 310h2v1h-2zM439 309h2v1h-2zM441 308h1v1h-1zM442 307h1v1h-1zM443 306h1v1h-1zM444 305h1v1h-1zM445 304h1v1h-1zM446 303h1v1h-1zM447 301h1v2h-1zM448 299h1v2h-1zM449 298h1v1h-1zM450 296h1v2h-1zM451 295h1v1h-1zM452 294h1v1h-1zM453 292h1v2h-1zM454 291h1v1h-1zM455 289h1v2h-1zM456 287h1v2h-1zM457 285h1v2h-1zM458 283h1v2h-1zM459 281h1v2h-1zM460 279h1v2h-1zM461 277h1v2h-1zM462 276h1v1h-1zM463 275h1v1h-1zM464 274h1v1h-1zM465 272h1v2h-1zM466 271h1v1h-1zM467 270h1v1h-1zM468 269h1v1h-1zM469 268h1v1h-1zM470 266h1v2h-1zM471 265h2v1h-2zM473 264h2v1h-2zM475 263h2v1h-2zM477 262h2v1h-2zM479 261h5v1h-5zM484 260h4v1h-4zM488 259h2v1h-2zM490 258h2v1h-2zM492 257h1v1h-1zM493 256h2v1h-2zM495 255h2v1h-2zM497 254h1v1h-1zM498 253h2v1h-2zM500 252h3v1h-3zM503 251h15v1h-15zM518 252h1v1h-1zM519 253h2v1h-2zM521 254h1v1h-1zM522 255h2v1h-2zM524 256h2v1h-2zM526 257h1v1h-1zM527 258h1v1h-1zM528 259h1v1h-1zM529 260h1v1h-1zM530 261h1v1h-1zM531 262h3v1h-3zM534 263h4v1h-4zM538 264h4v1h-4zM542 265h4v1h-4zM546 266h2v1h-2zM548 265h4v1h-4zM552 264h1v1h-1zM553 262h1v2h-1zM554 261h1v1h-1zM555 259h1v2h-1zM556 258h1v1h-1zM557 257h1v1h-1zM558 256h1v1h-1zM559 255h1v1h-1zM560 254h1v1h-1zM561 252h1v2h-1zM562 250h1v2h-1zM563 248h1v2h-1zM564 245h1v3h-1zM565 242h1v3h-1zM566 240h1v2h-1zM567 238h1v2h-1zM568 236h1v2h-1zM569 234h1v2h-1zM570 232h1v2h-1zM571 229h1v3h-1zM572 227h1v2h-1zM573 224h1v3h-1zM574 222h1v2h-1zM575 219h1v3h-1zM576 217h1v2h-1zM577 214h1v3h-1zM578 212h1v2h-1zM579 209h1v3h-1zM580 207h1v2h-1zM581 205h1v2h-1zM582 203h1v2h-1zM583 201h1v2h-1zM584 199h1v2h-1zM585 198h1v1h-1zM586 196h1v2h-1zM587 195h1v1h-1zM588 194h1v1h-1zM589 193h1v1h-1zM590 192h1v1h-1zM591 191h1v1h-1zM592 190h2v1h-2zM594 189h4v1h-4zM598 188h4v1h-4zM602 187h4v1h-4zM606 186h5v1h-5zM611 185h1v2h-1zM612 184h1v1h-1zM613 182h1v2h-1zM614 181h1v1h-1zM615 179h1v2h-1zM616 177h1v2h-1zM617 175h1v2h-1zM618 173h1v2h-1zM619 171h1v2h-1zM620 169h1v2h-1zM621 167h1v2h-1zM622 165h1v2h-1zM623 163h1v2h-1zM624 161h1v2h-1zM625 159h1v2h-1zM626 157h1v2h-1zM627 155h1v2h-1zM628 153h1v2h-1zM629 151h1v2h-1zM630 150h1v1h-1zM631 149h1v1h-1zM632 148h1v1h-1zM633 146h1v2h-1zM634 145h1v1h-1zM635 144h1v1h-1zM636 143h1v1h-1zM637 142h1v1h-1zM638 141h2v1h-2zM640 140h2v1h-2zM642 139h1v1h-1zM643 138h1v1h-1zM644 137h1v1h-1zM645 136h2v1h-2zM647 135h1v1h-1zM648 134h1v1h-1zM649 133h1v1h-1zM650 131h1v2h-1zM651 130h1v1h-1zM652 128h1v2h-1zM653 127h1v1h-1zM654 125h1v2h-1zM655 124h3v1h-3zM658 123h2v1h-2zM660 124h1v1h-1zM661 125h1v2h-1zM662 127h1v3h-1zM663 130h1v2h-1zM664 132h1v3h-1zM665 135h1v3h-1zM666 138h1v4h-1zM667 142h1v3h-1zM668 145h1v4h-1zM669 149h1v4h-1zM670 153h1v3h-1zM671 156h1v4h-1zM672 160h1v4h-1zM673 164h1v3h-1zM674 167h1v3h-1zM675 170h1v3h-1zM676 173h1v3h-1zM677 176h1v3h-1zM678 179h1v2h-1zM679 181h1v3h-1zM680 184h1v3h-1zM681 187h1v3h-1zM682 190h1v3h-1zM683 193h1v3h-1zM684 196h1v3h-1zM685 199h1v3h-1zM686 202h1v3h-1zM687 205h1v3h-1zM688 208h1v2h-1zM689 210h1v2h-1zM690 212h1v2h-1zM691 214h1v2h-1zM692 216h1v2h-1zM693 218h1v2h-1zM694 220h1v2h-1zM695 222h1v2h-1zM696 224h1v2h-1zM697 226h1v1h-1zM698 227h1v2h-1zM699 229h1v1h-1zM700 230h1v2h-1zM701 232h1v1h-1zM702 233h1v1h-1zM703 234h1v1h-1zM704 235h1v1h-1zM705 236h1v1h-1zM706 237h1v1h-1zM707 238h2v1h-2zM709 239h2v1h-2zM711 240h2v1h-2zM713 241h4v1h-4zM717 242h2v1h-2zM719 241h2v1h-2zM721 240h1v1h-1zM722 238h1v2h-1zM723 237h1v1h-1zM724 235h1v2h-1zM725 234h1v1h-1zM726 232h1v2h-1zM727 230h1v2h-1zM728 228h1v2h-1zM729 226h1v2h-1zM730 224h1v2h-1zM731 221h1v3h-1zM732 217h1v4h-1zM733 213h1v4h-1zM734 209h1v4h-1zM735 206h1v3h-1zM736 204h1v2h-1zM737 201h1v3h-1zM738 199h1v2h-1zM739 198h1v1h-1zM740 197h1v1h-1zM741 196h1v1h-1zM742 195h5v1h-5zM747 196h4v1h-4zM751 197h1v1h-1zM752 198h1v2h-1zM753 200h1v1h-1zM754 201h1v1h-1zM755 202h1v2h-1zM756 204h1v2h-1zM757 206h1v1h-1zM758 207h1v2h-1zM759 209h1v1h-1zM760 210h1v1h-1zM761 211h1v2h-1zM762 213h1v2h-1zM763 215h1v3h-1zM764 218h1v2h-1zM765 220h1v2h-1zM766 222h1v2h-1zM767 224h1v2h-1zM768 226h1v1h-1zM769 227h1v2h-1zM770 229h1v2h-1zM771 231h1v2h-1zM772 233h1v3h-1zM773 236h1v3h-1zM774 239h1v3h-1zM775 242h1v3h-1zM776 245h1v3h-1zM777 248h1v4h-1zM778 252h1v3h-1zM779 255h1v3h-1zM780 258h1v2h-1zM781 260h1v2h-1zM782 262h1v3h-1zM783 265h1v2h-1zM784 267h1v2h-1zM785 269h1v2h-1zM786 271h1v1h-1zM787 272h1v1h-1zM788 273h1v1h-1zM789 274h1v1h-1zM790 275h1v1h-1zM791 276h1v1h-1zM792 277h1v1h-1zM793 278h2v1h-2zM795 279h2v1h-2zM797 280h2v1h-2zM799 281h2v1h-2zM801 280h3v1h-3zM804 279h6v1h-6zM810 280h2v1h-2zM812 281h1v1h-1zM813 282h2v1h-2zM815 283h5v1h-5zM820 282h1v1h-1zM821 281h1v1h-1zM822 280h1v1h-1zM823 279h1v1h-1zM824 278h2v1h-2zM826 277h1v1h-1z"/>
<path clip-path="url(#cm)" fill="#ff0000" shape-rendering="crispEdges" d="M3 412h16v1h-16zM19 411h5v1h-5zM24 412h4v1h-4zM28 413h7v1h-7zM35 412h3v1h-3zM38 411h1v1h-1zM39 410h1v1h-1zM40 408h1v2h-1zM41 407h1v1h-1zM42 406h1v1h-1zM43 405h1v1h-1zM44 404h1v1h-1zM45 403h1v1h-1zM46 402h1v1h-1zM47 401h1v1h-1zM48 400h1v1h-1zM49 399h2v1h-2zM51 398h2v1h-2zM53 397h2v1h-2zM55 396h1v1h-1zM56 395h1v1h-1zM57 394h1v1h-1zM58 393h1v1h-1zM59 392h1v1h-1zM60 391h1v1h-1zM61 390h8v1h-8zM69 389h2v1h-2zM71 390h3v1h-3zM74 391h4v1h-4zM78 392h2v1h-2zM80 393h3v1h-3zM83 394h2v1h-2zM85 395h5v1h-5zM90 394h3v1h-3zM93 395h1v1h-1zM94 396h2v1h-2zM96 397h1v1h-1zM97 398h1v1h-1zM98 399h1v1h-1zM99 400h3v1h-3zM102 401h5v1h-5zM107 402h2v1h-2zM109 403h1v1h-1zM110 404h1v1h-1zM111 405h1v1h-1zM112 406h2v1h-2zM114 407h3v1h-3zM117 408h2v1h-2zM119 409h2v1h-2zM121 410h2v1h-2zM123 409h4v1h-4zM127 408h3v1h-3zM130 407h2v1h-2zM132 406h1v1h-1zM133 405h2v1h-2zM135 404h1v1h-1zM136 403h1v1h-1zM137 402h1v1h-1zM138 401h1v1h-1zM139 400h2v1h-2zM141 399h1v1h-1zM142 398h1v1h-1zM143 397h2v1h-2zM145 396h1v1h-1zM146 395h1v1h-1zM147 394h1v1h-1zM148 393h2v1h-2zM150 392h1v1h-1zM151 390h1v2h-1zM152 389h1v1h-1zM153 388h1v1h-1zM154 386h1v2h-1zM155 385h1v1h-1zM156 384h1v1h-1zM157 382h1v2h-1zM158 381h1v1h-1zM159 379h1v2h-1zM160 378h1v1h-1zM161 376h1v2h-1zM162 375h1v1h-1zM163 373h1v2h-1zM164 372h1v1h-1zM165 370h1v2h-1zM166 369h1v1h-1zM167 368h1v1h-1zM168 366h1v2h-1zM169 365h1v1h-1zM170 364h1v1h-1zM171 363h1v1h-1zM172 362h1v1h-1zM173 361h1v1h-1zM174 360h1v2h-1zM175 359h1v1h-1zM176 357h1v2h-1zM177 355h1v2h-1zM178 354h1v1h-1zM179 352h1v2h-1zM180 351h1v1h-1zM181 350h1v1h-1zM182 349h1v1h-1zM183 348h1v1h-1zM184 347h1v1h-1zM185 346h5v1h-5zM190 347h3v1h-3zM193 348h3v1h-3zM196 349h1v1h-1zM197 348h3v1h-3zM200 347h6v1h-6zM206 348h1v1h-1zM207 349h1v1h-1zM208 350h1v1h-1zM209 351h1v1h-1zM210 352h1v1h-1zM211 353h1v1h-1zM212 354h1v1h-1zM213 355h2v1h-2zM215 356h1v1h-1zM216 357h3v1h-3zM219 358h3v1h-3zM222 359h22v1h-22zM244 360h5v1h-5zM249 359h3v1h-3zM252 358h1v1h-1zM253 357h1v1h-1zM254 356h1v1h-1zM255 355h1v1h-1zM256 354h1v1h-1zM257 353h1v1h-1zM258 352h1v1h-1zM259 351h2v1h-2zM261 350h3v1h-3zM264 349h1v1h-1zM265 348h1v1h-1zM266 347h1v1h-1zM267 346h1v1h-1zM268 345h1v1h-1zM269 343h1v2h-1zM270 341h1v2h-1zM271 339h1v2h-1zM272 337h1v2h-1zM273 336h1v1h-1zM274 335h1v1h-1zM275 334h1v1h-1zM276 333h1v1h-1zM277 332h1v1h-1zM278 331h1v1h-1zM279 330h1v1h-1zM280 328h1v2h-1zM281 327h1v1h-1zM282 326h1v1h-1zM283 325h1v1h-1zM284 324h1v1h-1zM285 323h1v1h-1zM286 321h1v2h-1zM287 320h1v1h-1zM288 319h1v1h-1zM289 318h1v1h-1zM290 317h1v1h-1zM291 315h1v2h-1zM292 313h1v2h-1zM293 311h1v2h-1zM294 308h1v3h-1zM295 307h1v3h-1zM296 310h1v2h-1zM297 312h1v2h-1zM298 314h1v1h-1zM299 315h1v1h-1zM300 316h3v1h-3zM303 315h2v1h-2zM305 314h1v1h-1zM306 313h1v1h-1zM307 312h1v1h-1zM308 310h1v2h-1zM309 309h1v1h-1zM310 308h1v1h-1zM311 307h1v1h-1zM312 305h1v2h-1zM313 304h1v1h-1zM314 303h2v1h-2zM316 302h1v1h-1zM317 301h2v1h-2zM319 300h1v1h-1zM320 299h1v1h-1zM321 297h1v2h-1zM322 296h1v1h-1zM323 295h1v1h-1zM324 294h6v1h-6zM330 295h6v1h-6zM336 296h2v1h-2zM338 295h5v1h-5zM343 294h2v1h-2zM345 293h2v1h-2zM347 292h5v1h-5zM352 293h1v1h-1zM353 294h1v1h-1zM354 295h1v2h-1zM355 297h2v1h-2zM357 298h2v1h-2zM359 299h8v1h-8zM367 298h2v1h-2zM369 297h1v1h-1zM370 296h2v1h-2zM372 295h1v1h-1zM373 294h2v1h-2zM375 293h1v1h-1zM376 292h2v1h-2zM378 291h1v1h-1zM379 290h2v1h-2zM381 289h1v1h-1zM382 288h2v1h-2zM384 287h1v1h-1zM385 286h1v1h-1zM386 284h1v2h-1zM387 282h1v2h-1zM388 280h1v2h-1zM389 278h1v2h-1zM390 276h1v2h-1zM391 275h1v1h-1zM392 274h1v1h-1zM393 272h1v2h-1zM394 271h1v1h-1zM395 269h1v2h-1zM396 268h1v1h-1zM397 266h1v2h-1zM398 265h1v1h-1zM399 263h1v2h-1zM400 262h1v1h-1zM401 260h1v2h-1zM402 259h1v1h-1zM403 258h1v1h-1zM404 257h1v1h-1zM405 256h1v1h-1zM406 254h1v2h-1zM407 253h1v1h-1zM408 252h2v1h-2zM410 251h1v1h-1zM411 250h2v1h-2zM413 249h4v1h-4zM417 248h4v1h-4zM421 247h1v1h-1zM422 246h1v1h-1zM423 245h1v1h-1zM424 244h1v1h-1zM425 243h1v1h-1zM426 242h1v1h-1zM427 241h1v1h-1zM428 240h2v1h-2zM430 239h1v1h-1zM431 238h1v1h-1zM432 237h1v1h-1zM433 236h1v1h-1zM434 235h1v1h-1zM435 234h1v1h-1zM436 231h1v3h-1zM437 229h1v2h-1zM438 226h1v3h-1zM439 224h1v2h-1zM440 221h1v3h-1zM441 220h1v1h-1zM442 218h1v2h-1zM443 217h1v1h-1zM444 215h1v2h-1zM445 214h1v1h-1zM446 213h1v1h-1zM447 212h1v1h-1zM448 211h1v1h-1zM449 210h1v1h-1zM450 209h1v1h-1zM451 208h1v1h-1zM452 207h1v1h-1zM453 206h4v1h-4zM457 207h1v1h-1zM458 208h1v1h-1zM459 209h1v1h-1zM460 208h1v1h-1zM461 207h1v1h-1zM462 206h6v1h-6zM468 207h2v1h-2zM470 208h1v2h-1zM471 210h1v2h-1zM472 212h1v3h-1zM473 215h1v3h-1zM474 218h1v3h-1zM475 221h1v2h-1zM476 223h1v2h-1zM477 225h1v1h-1zM478 226h1v2h-1zM479 228h2v1h-2zM481 229h1v1h-1zM482 230h1v1h-1zM483 231h2v1h-2zM485 232h2v1h-2zM487 233h3v1h-3zM490 232h3v1h-3zM493 231h2v1h-2zM495 230h1v1h-1zM496 229h2v1h-2zM498 228h1v1h-1zM499 227h2v1h-2zM501 226h1v1h-1zM502 225h1v1h-1zM503 224h1v1h-1zM504 222h1v2h-1zM505 221h1v1h-1zM506 219h1v2h-1zM507 217h1v2h-1zM508 214h1v3h-1zM509 212h1v2h-1zM510 209h1v3h-1zM511 207h1v2h-1zM512 205h1v2h-1zM513 203h1v2h-1zM514 201h1v2h-1zM515 199h1v2h-1zM516 197h1v2h-1zM517 194h1v3h-1zM518 192h1v2h-1zM519 190h1v2h-1zM520 188h1v2h-1zM521 186h1v2h-1zM522 185h1v1h-1zM523 183h1v2h-1zM524 181h1v2h-1zM525 179h1v2h-1zM526 177h1v2h-1zM527 175h1v2h-1zM528 173h1v2h-1zM529 171h1v2h-1zM530 170h1v1h-1zM531 169h2v1h-2zM533 168h2v1h-2zM535 167h1v1h-1zM536 166h1v1h-1zM537 165h1v1h-1zM538 164h1v1h-1zM539 163h2v1h-2zM541 162h2v1h-2zM543 161h2v1h-2zM545 160h1v1h-1zM546 159h1v1h-1zM547 158h1v1h-1zM548 156h1v2h-1zM549 155h1v1h-1zM550 153h1v2h-1zM551 152h1v1h-1zM552 150h1v2h-1zM553 148h1v2h-1zM554 146h1v2h-1zM555 145h1v1h-1zM556 143h1v2h-1zM557 142h1v1h-1zM558 141h1v1h-1zM559 140h1v1h-1zM560 138h1v2h-1zM561 137h1v1h-1zM562 136h1v1h-1zM563 135h1v1h-1zM564 134h1v1h-1zM565 133h1v1h-1zM566 132h1v1h-1zM567 131h1v1h-1zM568 130h1v1h-1zM569 129h1v1h-1zM570 128h1v1h-1zM571 127h1v1h-1zM572 126h1v1h-1zM573 125h1v1h-1zM574 124h1v1h-1zM575 123h1v1h-1zM576 121h1v2h-1zM577 120h1v1h-1zM578 119h1v1h-1zM579 118h1v1h-1zM580 117h1v1h-1zM581 116h3v1h-3zM584 115h1v1h-1zM585 113h1v2h-1zM586 111h1v2h-1zM587 109h1v2h-1zM588 107h1v2h-1zM589 105h1v2h-1zM590 103h1v2h-1zM591 101h1v2h-1zM592 99h1v2h-1zM593 97h1v2h-1zM594 94h1v3h-1zM595 91h1v3h-1zM596 88h1v3h-1zM597 85h1v3h-1zM598 82h1v3h-1zM599 80h1v2h-1zM600 78h1v2h-1zM601 76h1v2h-1zM602 74h1v2h-1zM603 70h1v4h-1zM604 66h1v4h-1zM605 62h1v4h-1zM606 60h1v2h-1zM607 58h1v2h-1zM608 55h1v3h-1zM609 54h2v1h-2zM611 55h1v2h-1zM612 57h1v2h-1zM613 59h1v2h-1zM614 61h1v3h-1zM615 64h1v4h-1zM616 68h1v4h-1zM617 72h1v3h-1zM618 75h1v3h-1zM619 78h1v2h-1zM620 80h1v1h-1zM621 81h2v1h-2zM623 82h1v1h-1zM624 83h1v1h-1zM625 84h1v1h-1zM626 85h1v1h-1zM627 86h1v1h-1zM628 87h1v1h-1zM629 88h2v1h-2zM631 89h2v1h-2zM633 88h1v1h-1zM634 87h2v1h-2zM636 85h1v2h-1zM637 83h1v2h-1zM638 82h1v1h-1zM639 80h1v2h-1zM640 77h1v3h-1zM641 74h1v3h-1zM642 71h1v3h-1zM643 67h1v4h-1zM644 64h1v3h-1zM645 60h1v4h-1zM646 58h1v2h-1zM647 56h1v2h-1zM648 55h1v1h-1zM649 53h1v2h-1zM650 52h1v1h-1zM651 51h2v1h-2zM653 52h2v1h-2zM655 53h1v3h-1zM656 56h1v3h-1zM657 59h1v3h-1zM658 62h1v3h-1zM659 65h1v3h-1zM660 68h1v4h-1zM661 72h1v7h-1zM662 79h1v8h-1zM663 87h1v7h-1zM664 94h1v6h-1zM665 100h1v7h-1zM666 107h1v4h-1zM667 111h1v5h-1zM668 116h1v4h-1zM669 120h1v4h-1zM670 124h1v5h-1zM671 129h1v4h-1zM672 133h1v4h-1zM673 137h1v4h-1zM674 141h1v4h-1zM675 145h2v1h-2zM677 146h2v1h-2zM679 147h1v3h-1zM680 150h1v3h-1zM681 153h1v3h-1zM682 156h1v4h-1zM683 160h1v3h-1zM684 163h1v2h-1zM685 165h1v2h-1zM686 167h1v2h-1zM687 169h1v1h-1zM688 170h1v2h-1zM689 172h1v1h-1zM690 173h1v1h-1zM691 174h1v1h-1zM692 175h1v1h-1zM693 174h3v1h-3zM696 175h1v1h-1zM697 176h1v1h-1zM698 177h1v1h-1zM699 177h1v2h-1zM700 176h1v1h-1zM701 175h1v1h-1zM702 174h1v1h-1zM703 173h1v1h-1zM704 171h1v2h-1zM705 170h1v1h-1zM706 168h1v2h-1zM707 167h1v1h-1zM708 165h1v2h-1zM709 163h1v2h-1zM710 162h1v1h-1zM711 161h1v1h-1zM712 160h1v1h-1zM713 159h11v1h-11zM724 160h1v1h-1zM725 160h1v2h-1zM726 162h1v1h-1zM727 163h1v2h-1zM728 165h1v3h-1zM729 168h1v2h-1zM730 170h1v1h-1zM731 171h1v1h-1zM732 172h3v1h-3zM735 171h3v1h-3zM738 170h4v1h-4zM742 169h2v1h-2zM744 169h1v2h-1zM745 171h1v1h-1zM746 172h1v2h-1zM747 174h2v1h-2zM749 175h1v1h-1zM750 176h1v1h-1zM751 177h1v1h-1zM752 178h1v2h-1zM753 180h1v3h-1zM754 183h1v2h-1zM755 185h1v2h-1zM756 187h1v3h-1zM757 190h1v3h-1zM758 193h1v2h-1zM759 195h1v3h-1zM760 198h1v2h-1zM761 200h1v2h-1zM762 202h1v3h-1zM763 205h1v2h-1zM764 207h1v2h-1zM765 209h1v3h-1zM766 212h1v2h-1zM767 214h3v1h-3zM770 215h1v1h-1zM771 216h1v2h-1zM772 218h1v3h-1zM773 221h1v2h-1zM774 223h1v1h-1zM775 224h1v3h-1zM776 227h1v5h-1zM777 232h1v5h-1zM778 237h1v2h-1zM779 239h1v3h-1zM780 242h1v2h-1zM781 244h2v1h-2zM783 245h1v1h-1zM784 246h7v1h-7zM791 247h2v1h-2zM793 246h1v1h-1zM794 245h1v1h-1zM795 244h4v1h-4zM799 243h1v1h-1zM800 240h1v3h-1zM801 237h1v3h-1zM802 234h1v3h-1zM803 232h1v2h-1zM804 231h1v1h-1zM805 230h1v1h-1zM806 229h1v1h-1zM807 228h4v1h-4zM811 229h1v2h-1zM812 231h1v3h-1zM813 234h1v2h-1zM814 236h1v2h-1zM815 238h1v1h-1zM816 239h1v1h-1zM817 240h1v1h-1zM818 241h1v1h-1zM819 242h1v1h-1zM820 243h6v1h-6zM826 242h1v1h-1z"/>
<path clip-path="url(#cm)" fill="#ffff00" shape-rendering="crispEdges" d="M3 416h1v1h-1zM4 415h5v1h-5zM9 414h4v1h-4zM13 413h25v1h-25zM38 412h1v1h-1zM39 411h1v1h-1zM40 410h1v1h-1zM41 409h1v1h-1zM42 408h1v1h-1zM43 407h2v1h-2zM45 406h2v1h-2zM47 405h1v1h-1zM48 404h2v1h-2zM50 403h3v1h-3zM53 402h2v1h-2zM55 401h2v1h-2zM57 400h1v1h-1zM58 399h1v1h-1zM59 398h1v1h-1zM60 397h2v1h-2zM62 396h3v1h-3zM65 395h3v1h-3zM68 394h25v1h-25zM93 395h3v1h-3zM96 396h3v1h-3zM99 397h4v1h-4zM103 398h5v1h-5zM108 399h1v1h-1zM109 400h2v1h-2zM111 401h1v1h-1zM112 402h2v1h-2zM114 403h2v1h-2zM116 404h3v1h-3zM119 405h2v1h-2zM121 406h3v1h-3zM124 407h10v1h-10zM134 406h2v1h-2zM136 405h3v1h-3zM139 404h1v1h-1zM140 403h2v1h-2zM142 402h1v1h-1zM143 401h2v1h-2zM145 400h1v1h-1zM146 399h2v1h-2zM148 398h1v1h-1zM149 397h2v1h-2zM151 396h1v1h-1zM152 395h1v1h-1zM153 394h1v1h-1zM154 393h1v1h-1zM155 392h1v1h-1zM156 391h1v1h-1zM157 390h1v1h-1zM158 389h1v1h-1zM159 388h1v1h-1zM160 386h1v2h-1zM161 385h1v1h-1zM162 384h1v1h-1zM163 383h1v1h-1zM164 381h1v2h-1zM165 380h1v1h-1zM166 379h1v1h-1zM167 378h1v1h-1zM168 377h1v1h-1zM169 376h1v1h-1zM170 374h1v2h-1zM171 373h1v1h-1zM172 372h1v1h-1zM173 371h1v1h-1zM174 370h1v1h-1zM175 369h1v1h-1zM176 367h1v2h-1zM177 366h1v1h-1zM178 365h1v1h-1zM179 364h1v1h-1zM180 362h1v2h-1zM181 361h1v1h-1zM182 360h1v1h-1zM183 359h1v1h-1zM184 358h2v1h-2zM186 357h1v1h-1zM187 356h2v1h-2zM189 355h4v1h-4zM193 354h5v1h-5zM198 353h4v1h-4zM202 352h3v1h-3zM205 351h3v1h-3zM208 352h2v1h-2zM210 353h1v1h-1zM211 354h2v1h-2zM213 355h1v1h-1zM214 356h3v1h-3zM217 357h4v1h-4zM221 358h6v1h-6zM227 359h17v1h-17zM244 360h6v1h-6zM250 359h3v1h-3zM253 358h1v1h-1zM254 357h1v1h-1zM255 356h2v1h-2zM257 355h1v1h-1zM258 354h3v1h-3zM261 353h3v1h-3zM264 352h2v1h-2zM266 351h2v1h-2zM268 350h1v1h-1zM269 349h1v1h-1zM270 348h1v1h-1zM271 347h1v1h-1zM272 345h1v2h-1zM273 344h1v1h-1zM274 343h1v1h-1zM275 342h1v1h-1zM276 341h1v1h-1zM277 340h1v1h-1zM278 339h1v1h-1zM279 338h1v1h-1zM280 337h1v1h-1zM281 336h1v1h-1zM282 335h1v1h-1zM283 334h1v1h-1zM284 333h1v1h-1zM285 332h1v1h-1zM286 331h1v1h-1zM287 329h1v2h-1zM288 328h1v1h-1zM289 327h1v1h-1zM290 325h1v2h-1zM291 324h1v1h-1zM292 322h1v2h-1zM293 321h1v1h-1zM294 320h4v1h-4zM298 321h5v1h-5zM303 320h2v1h-2zM305 319h1v1h-1zM306 318h1v1h-1zM307 317h1v1h-1zM308 316h2v1h-2zM310 315h1v1h-1zM311 314h1v1h-1zM312 313h1v1h-1zM313 312h1v1h-1zM314 311h2v1h-2zM316 310h1v1h-1zM317 309h1v1h-1zM318 308h1v1h-1zM319 307h2v1h-2zM321 306h1v1h-1zM322 305h1v1h-1zM323 304h1v1h-1zM324 303h2v1h-2zM326 302h3v1h-3zM329 301h4v1h-4zM333 300h4v1h-4zM337 299h4v1h-4zM341 298h4v1h-4zM345 297h2v1h-2zM347 296h2v1h-2zM349 295h5v1h-5zM354 296h2v1h-2zM356 297h4v1h-4zM360 298h11v1h-11zM371 297h3v1h-3zM374 296h3v1h-3zM377 295h3v1h-3zM380 294h2v1h-2zM382 293h2v1h-2zM384 291h1v2h-1zM385 290h1v1h-1zM386 288h1v2h-1zM387 287h1v1h-1zM388 286h1v1h-1zM389 284h1v2h-1zM390 283h1v1h-1zM391 282h1v1h-1zM392 281h1v1h-1zM393 280h1v1h-1zM394 279h1v1h-1zM395 278h1v1h-1zM396 276h1v2h-1zM397 275h1v1h-1zM398 274h1v1h-1zM399 273h1v1h-1zM400 272h1v1h-1zM401 271h1v1h-1zM402 269h1v2h-1zM403 268h1v1h-1zM404 267h1v1h-1zM405 266h1v1h-1zM406 265h1v1h-1zM407 263h1v2h-1zM408 262h2v1h-2zM410 261h1v1h-1zM411 260h2v1h-2zM413 259h2v1h-2zM415 258h2v1h-2zM417 257h2v1h-2zM419 256h1v1h-1zM420 255h1v1h-1zM421 254h1v1h-1zM422 253h1v1h-1zM423 252h1v1h-1zM424 251h1v1h-1zM425 250h1v1h-1zM426 249h2v1h-2zM428 248h1v1h-1zM429 247h1v1h-1zM430 246h2v1h-2zM432 245h1v1h-1zM433 244h1v1h-1zM434 243h1v1h-1zM435 242h1v1h-1zM436 240h1v2h-1zM437 239h1v1h-1zM438 237h1v2h-1zM439 236h1v1h-1zM440 234h1v2h-1zM441 231h1v3h-1zM442 229h1v2h-1zM443 228h1v1h-1zM444 227h1v1h-1zM445 226h1v1h-1zM446 225h1v1h-1zM447 224h1v1h-1zM448 223h1v1h-1zM449 222h1v1h-1zM450 221h1v1h-1zM451 220h1v1h-1zM452 219h1v1h-1zM453 218h2v1h-2zM455 217h2v1h-2zM457 216h2v1h-2zM459 215h2v1h-2zM461 214h3v1h-3zM464 213h2v1h-2zM466 212h4v1h-4zM470 212h1v2h-1zM471 214h1v1h-1zM472 215h1v1h-1zM473 216h1v2h-1zM474 218h1v1h-1zM475 219h1v1h-1zM476 220h1v1h-1zM477 221h1v1h-1zM478 222h1v1h-1zM479 223h1v1h-1zM480 224h2v1h-2zM482 225h1v1h-1zM483 226h2v1h-2zM485 227h2v1h-2zM487 228h9v1h-9zM496 229h4v1h-4zM500 228h2v1h-2zM502 227h1v1h-1zM503 226h1v1h-1zM504 225h1v2h-1zM505 224h1v1h-1zM506 223h1v1h-1zM507 221h1v2h-1zM508 220h1v1h-1zM509 218h1v2h-1zM510 217h1v1h-1zM511 215h1v2h-1zM512 214h1v1h-1zM513 212h1v2h-1zM514 211h1v1h-1zM515 209h1v2h-1zM516 208h1v1h-1zM517 206h1v2h-1zM518 205h1v1h-1zM519 204h1v1h-1zM520 202h1v2h-1zM521 201h1v1h-1zM522 199h1v2h-1zM523 198h1v1h-1zM524 196h1v2h-1zM525 195h1v1h-1zM526 193h1v2h-1zM527 191h1v2h-1zM528 189h1v2h-1zM529 187h1v2h-1zM530 186h1v1h-1zM531 185h1v1h-1zM532 184h1v1h-1zM533 182h1v2h-1zM534 181h1v1h-1zM535 180h1v1h-1zM536 179h1v1h-1zM537 178h1v1h-1zM538 177h1v1h-1zM539 176h2v1h-2zM541 175h1v1h-1zM542 174h1v1h-1zM543 173h1v1h-1zM544 172h1v1h-1zM545 170h1v2h-1zM546 169h1v1h-1zM547 168h1v1h-1zM548 167h1v1h-1zM549 166h2v1h-2zM551 165h1v1h-1zM552 163h1v2h-1zM553 160h1v3h-1zM554 159h1v1h-1zM555 157h1v2h-1zM556 156h1v1h-1zM557 154h1v2h-1zM558 153h1v1h-1zM559 151h1v2h-1zM560 150h1v1h-1zM561 149h1v1h-1zM562 147h1v2h-1zM563 146h1v1h-1zM564 145h1v1h-1zM565 144h1v1h-1zM566 143h1v1h-1zM567 142h1v1h-1zM568 141h1v1h-1zM569 140h1v1h-1zM570 139h1v1h-1zM571 138h1v1h-1zM572 137h1v1h-1zM573 135h1v2h-1zM574 134h1v1h-1zM575 133h1v1h-1zM576 132h1v1h-1zM577 131h1v1h-1zM578 130h1v1h-1zM579 129h1v1h-1zM580 128h1v1h-1zM581 127h1v1h-1zM582 126h2v1h-2zM584 125h1v1h-1zM585 124h1v1h-1zM586 122h1v2h-1zM587 121h1v1h-1zM588 119h1v2h-1zM589 118h1v1h-1zM590 116h1v2h-1zM591 114h1v2h-1zM592 112h1v2h-1zM593 110h1v2h-1zM594 108h1v2h-1zM595 106h1v2h-1zM596 104h1v2h-1zM597 102h1v2h-1zM598 99h1v3h-1zM599 97h1v2h-1zM600 95h1v2h-1zM601 92h1v3h-1zM602 90h1v2h-1zM603 87h1v3h-1zM604 85h1v2h-1zM605 82h1v3h-1zM606 79h1v3h-1zM607 78h2v1h-2zM609 76h1v2h-1zM610 75h1v1h-1zM611 74h3v1h-3zM614 75h1v1h-1zM615 76h1v1h-1zM616 77h1v1h-1zM617 78h1v1h-1zM618 79h1v1h-1zM619 80h1v1h-1zM620 81h1v1h-1zM621 82h2v1h-2zM623 83h2v1h-2zM625 84h3v1h-3zM628 85h2v1h-2zM630 86h6v1h-6zM636 85h1v1h-1zM637 84h1v1h-1zM638 83h1v1h-1zM639 81h1v2h-1zM640 79h1v2h-1zM641 77h1v2h-1zM642 75h1v2h-1zM643 73h1v2h-1zM644 71h1v2h-1zM645 69h1v2h-1zM646 68h1v1h-1zM647 67h1v1h-1zM648 66h1v1h-1zM649 65h1v1h-1zM650 64h1v1h-1zM651 63h1v1h-1zM652 62h2v1h-2zM654 61h2v1h-2zM656 62h1v2h-1zM657 64h1v1h-1zM658 65h1v3h-1zM659 68h1v2h-1zM660 70h1v2h-1zM661 72h1v4h-1zM662 76h1v3h-1zM663 79h1v4h-1zM664 83h1v3h-1zM665 86h1v3h-1zM666 89h1v3h-1zM667 92h1v3h-1zM668 95h1v3h-1zM669 98h1v3h-1zM670 101h1v4h-1zM671 105h1v3h-1zM672 108h1v3h-1zM673 111h1v3h-1zM674 114h1v4h-1zM675 118h1v1h-1zM676 119h1v2h-1zM677 121h1v2h-1zM678 123h1v3h-1zM679 126h1v3h-1zM680 129h1v3h-1zM681 132h1v3h-1zM682 135h1v2h-1zM683 137h1v2h-1zM684 139h1v3h-1zM685 142h1v2h-1zM686 144h1v2h-1zM687 146h1v2h-1zM688 148h1v1h-1zM689 149h1v2h-1zM690 151h1v1h-1zM691 152h1v2h-1zM692 154h1v1h-1zM693 155h1v1h-1zM694 156h1v1h-1zM695 157h1v2h-1zM696 159h1v1h-1zM697 160h1v1h-1zM698 161h1v1h-1zM699 162h3v1h-3zM702 163h2v1h-2zM704 162h4v1h-4zM708 161h2v1h-2zM710 160h1v1h-1zM711 159h2v1h-2zM713 158h10v1h-10zM723 159h3v1h-3zM726 160h1v1h-1zM727 161h1v1h-1zM728 162h1v2h-1zM729 164h1v2h-1zM730 166h2v1h-2zM732 167h12v1h-12zM744 168h2v1h-2zM746 169h2v1h-2zM748 170h1v1h-1zM749 171h2v1h-2zM751 172h1v1h-1zM752 173h1v2h-1zM753 175h1v2h-1zM754 177h1v2h-1zM755 179h1v1h-1zM756 180h1v2h-1zM757 182h1v1h-1zM758 183h1v2h-1zM759 185h1v1h-1zM760 186h1v2h-1zM761 188h1v3h-1zM762 191h1v2h-1zM763 193h1v2h-1zM764 195h1v2h-1zM765 197h2v1h-2zM767 198h1v1h-1zM768 199h1v1h-1zM769 200h1v1h-1zM770 201h1v2h-1zM771 203h1v1h-1zM772 204h1v2h-1zM773 206h1v2h-1zM774 208h1v3h-1zM775 211h1v2h-1zM776 213h1v2h-1zM777 215h1v3h-1zM778 218h1v3h-1zM779 221h1v3h-1zM780 224h1v1h-1zM781 225h1v1h-1zM782 226h1v1h-1zM783 227h1v2h-1zM784 229h1v1h-1zM785 230h1v1h-1zM786 231h2v1h-2zM788 232h1v1h-1zM789 233h1v1h-1zM790 234h3v1h-3zM793 235h3v1h-3zM796 236h3v1h-3zM799 235h1v1h-1zM800 234h1v1h-1zM801 233h1v1h-1zM802 232h1v1h-1zM803 231h1v1h-1zM804 230h3v1h-3zM807 229h4v1h-4zM811 230h1v1h-1zM812 231h1v2h-1zM813 233h1v1h-1zM814 234h1v1h-1zM815 235h1v1h-1zM816 236h2v1h-2zM818 237h2v1h-2zM820 238h3v1h-3zM823 239h4v1h-4z"/>
<path clip-path="url(#cs)" shape-rendering="crispEdges" fill="#c0c0c0" d="M3 483h1v10h-1zM7 482h1v11h-1zM11 483h1v10h-1zM15 483h1v10h-1zM19 483h1v10h-1zM23 484h1v9h-1zM27 485h1v8h-1zM31 486h1v7h-1zM35 486h1v7h-1zM39 486h1v7h-1zM43 484h1v9h-1zM47 483h1v10h-1zM51 482h1v11h-1zM55 482h1v11h-1zM59 480h1v13h-1zM63 480h1v13h-1zM67 480h1v13h-1zM71 480h1v13h-1zM75 481h1v12h-1zM79 481h1v12h-1zM83 483h1v10h-1zM87 483h1v10h-1zM91 483h1v10h-1zM95 485h1v8h-1zM99 487h1v6h-1zM103 489h1v4h-1zM107 489h1v4h-1zM111 491h1v2h-1zM115 492h1v1h-1zM119 492h1v1h-1zM123 492h1v1h-1zM127 492h1v1h-1zM131 492h1v1h-1zM135 492h1v1h-1zM139 492h1v1h-1zM143 491h1v2h-1zM147 490h1v3h-1zM151 488h1v5h-1zM155 486h1v7h-1zM159 484h1v9h-1zM163 481h1v12h-1zM167 479h1v14h-1zM171 477h1v16h-1zM175 476h1v17h-1zM179 473h1v20h-1zM183 471h1v22h-1zM187 470h1v23h-1zM191 471h1v22h-1zM195 472h1v21h-1zM199 472h1v21h-1zM203 472h1v21h-1zM207 474h1v19h-1zM211 476h1v17h-1zM215 478h1v15h-1zM219 480h1v13h-1zM223 482h1v11h-1zM227 482h1v11h-1zM231 484h1v9h-1zM235 485h1v8h-1zM239 485h1v8h-1zM243 486h1v7h-1zM247 487h1v6h-1zM251 487h1v6h-1zM255 486h1v7h-1zM259 485h1v8h-1zM263 485h1v8h-1zM267 485h1v8h-1zM271 481h1v12h-1zM275 480h1v13h-1zM279 478h1v15h-1zM283 476h1v17h-1zM287 475h1v18h-1zM291 473h1v20h-1zM295 471h1v22h-1zM299 473h1v20h-1zM303 474h1v19h-1zM307 473h1v20h-1zM311 474h1v19h-1zM315 471h1v22h-1zM319 471h1v22h-1zM323 470h1v23h-1zM327 470h1v23h-1zM331 471h1v22h-1zM335 472h1v21h-1zM339 472h1v21h-1zM343 473h1v20h-1zM347 473h1v20h-1zM351 474h1v19h-1zM355 476h1v17h-1zM359 478h1v15h-1zM363 479h1v14h-1zM367 480h1v13h-1zM371 481h1v12h-1zM375 480h1v13h-1zM379 480h1v13h-1zM383 480h1v13h-1zM387 479h1v14h-1zM391 476h1v17h-1zM395 474h1v19h-1zM399 472h1v21h-1zM403 470h1v23h-1zM407 469h1v24h-1zM411 469h1v24h-1zM415 468h1v25h-1zM419 468h1v25h-1zM423 468h1v25h-1zM427 467h1v26h-1zM431 467h1v26h-1zM435 466h1v27h-1zM439 464h1v29h-1zM443 462h1v31h-1zM447 461h1v32h-1zM451 459h1v34h-1zM455 460h1v33h-1zM459 461h1v32h-1zM463 462h1v31h-1zM467 463h1v30h-1zM471 465h1v28h-1zM475 471h1v22h-1zM479 474h1v19h-1zM483 477h1v16h-1zM487 480h1v13h-1zM491 481h1v12h-1zM495 483h1v10h-1zM499 483h1v10h-1zM503 483h1v10h-1zM507 480h1v13h-1zM511 478h1v15h-1zM515 475h1v18h-1zM519 472h1v21h-1zM523 470h1v23h-1zM527 468h1v25h-1zM531 465h1v28h-1zM535 464h1v29h-1zM539 463h1v30h-1zM543 463h1v30h-1zM547 461h1v32h-1zM551 461h1v32h-1zM555 459h1v34h-1zM559 458h1v35h-1zM563 456h1v37h-1zM567 456h1v37h-1zM571 456h1v37h-1zM575 455h1v38h-1zM579 454h1v39h-1zM583 455h1v38h-1zM587 454h1v39h-1zM591 454h1v39h-1zM595 451h1v42h-1zM599 447h1v46h-1zM603 446h1v47h-1zM607 442h1v51h-1zM611 441h1v52h-1zM615 445h1v48h-1zM619 452h1v41h-1zM623 456h1v37h-1zM627 458h1v35h-1zM631 462h1v31h-1zM635 464h1v29h-1zM639 464h1v29h-1zM643 461h1v32h-1zM647 459h1v34h-1zM651 459h1v34h-1zM655 459h1v34h-1zM659 464h1v29h-1zM663 473h1v20h-1zM667 485h1v8h-1zM675 492h1v8h-1zM679 492h1v12h-1zM683 492h1v19h-1zM687 492h1v23h-1zM691 492h1v27h-1zM695 492h1v28h-1zM699 492h1v30h-1zM703 492h1v29h-1zM707 492h1v27h-1zM711 492h1v24h-1zM715 492h1v22h-1zM719 492h1v20h-1zM723 492h1v20h-1zM727 492h1v20h-1zM731 492h1v22h-1zM735 492h1v21h-1zM739 492h1v19h-1zM743 492h1v18h-1zM747 492h1v19h-1zM751 492h1v19h-1zM755 492h1v20h-1zM759 492h1v24h-1zM763 492h1v26h-1zM767 492h1v30h-1zM771 492h1v30h-1zM775 492h1v33h-1zM779 492h1v38h-1zM783 492h1v40h-1zM787 492h1v39h-1zM791 492h1v39h-1zM795 492h1v37h-1zM799 492h1v36h-1zM803 492h1v31h-1zM807 492h1v27h-1zM811 492h1v25h-1zM815 492h1v27h-1zM819 492h1v27h-1zM823 492h1v26h-1zM827 492h1v25h-1z"/>
<path clip-path="url(#cs)" fill="#ff0000" shape-rendering="crispEdges" d="M3 478h3v1h-3zM9 479h3v1h-3zM15 480h3v1h-3zM21 481h1v1h-1zM22 482h2v1h-2zM27 482h3v1h-3zM33 483h3v1h-3zM39 483h3v1h-3zM45 483h3v1h-3zM51 483h3v1h-3zM57 483h3v1h-3zM63 482h2v1h-2zM65 481h1v1h-1zM69 481h2v1h-2zM71 480h1v1h-1zM75 480h3v1h-3zM81 480h3v1h-3zM87 480h3v1h-3zM93 480h2v1h-2zM95 481h1v1h-1zM99 482h3v1h-3zM105 483h2v1h-2zM107 484h1v1h-1zM111 485h3v1h-3zM117 486h2v1h-2zM119 487h1v1h-1zM123 488h3v1h-3zM129 489h1v1h-1zM130 490h2v1h-2zM135 491h3v1h-3zM141 492h3v1h-3zM147 492h2v1h-2zM149 491h1v1h-1zM153 490h3v1h-3zM159 489h2v1h-2zM161 488h1v1h-1zM165 487h1v1h-1zM166 486h2v1h-2zM171 484h1v1h-1zM172 483h2v1h-2zM177 481h1v1h-1zM178 480h2v1h-2zM183 478h1v1h-1zM184 477h2v1h-2zM189 476h1v1h-1zM190 475h2v1h-2zM195 473h2v1h-2zM197 472h1v1h-1zM201 472h3v1h-3zM207 471h3v1h-3zM213 472h3v1h-3zM219 473h3v1h-3zM225 475h2v1h-2zM227 476h1v1h-1zM231 477h3v1h-3zM237 479h2v1h-2zM239 480h1v1h-1zM243 481h3v1h-3zM249 482h1v1h-1zM250 483h2v1h-2zM255 484h3v1h-3zM261 484h3v1h-3zM267 484h2v1h-2zM269 483h1v1h-1zM273 483h3v1h-3zM279 482h3v1h-3zM285 480h3v1h-3zM291 479h1v1h-1zM292 478h2v1h-2zM297 476h3v1h-3zM303 475h2v1h-2zM305 474h1v1h-1zM309 473h3v1h-3zM315 472h3v1h-3zM321 471h3v1h-3zM327 471h3v1h-3zM333 471h3v1h-3zM339 470h3v1h-3zM345 470h3v1h-3zM351 471h3v1h-3zM357 471h1v1h-1zM358 472h2v1h-2zM363 473h3v1h-3zM369 474h1v1h-1zM370 475h2v1h-2zM375 476h3v1h-3zM381 477h2v1h-2zM383 478h1v1h-1zM387 478h3v1h-3zM393 478h3v1h-3zM399 477h2v1h-2zM401 476h1v1h-1zM405 475h1v1h-1zM406 474h2v1h-2zM411 473h2v1h-2zM413 472h1v1h-1zM417 471h3v1h-3zM423 469h3v1h-3zM429 468h3v1h-3zM435 467h3v1h-3zM441 465h3v1h-3zM447 465h2v1h-2zM449 464h1v1h-1zM453 463h3v1h-3zM459 462h3v1h-3zM465 461h3v1h-3zM471 461h3v1h-3zM477 462h2v1h-2zM479 463h1v1h-1zM483 465h2v1h-2zM485 466h1v1h-1zM489 468h2v1h-2zM491 469h1v1h-1zM495 472h2v1h-2zM497 473h1v1h-1zM501 475h2v1h-2zM503 476h1v1h-1zM507 478h3v1h-3zM513 479h3v1h-3zM519 478h3v1h-3zM525 476h2v1h-2zM527 475h1v1h-1zM531 474h1v1h-1zM532 473h2v1h-2zM537 470h2v1h-2zM539 469h1v1h-1zM543 467h2v1h-2zM545 466h1v1h-1zM549 465h1v1h-1zM550 464h2v1h-2zM555 462h3v1h-3zM561 460h3v1h-3zM567 459h1v1h-1zM568 458h2v1h-2zM573 457h3v1h-3zM579 456h3v1h-3zM585 455h3v1h-3zM591 454h3v1h-3zM597 453h3v1h-3zM603 451h2v1h-2zM605 450h1v1h-1zM609 449h2v1h-2zM611 448h1v1h-1zM615 447h3v1h-3zM621 447h3v1h-3zM627 448h3v1h-3zM633 450h2v1h-2zM635 451h1v1h-1zM639 453h2v1h-2zM641 454h1v1h-1zM645 456h3v1h-3zM651 458h3v1h-3zM657 460h3v1h-3zM663 462h2v1h-2zM665 463h1v1h-1zM669 466h1v1h-1zM670 467h1v1h-1zM671 468h1v1h-1zM675 472h1v1h-1zM676 473h1v1h-1zM677 474h1v1h-1zM680 478h1v1h-1zM681 479h1v2h-1zM684 484h1v1h-1zM685 485h1v2h-1zM688 490h1v2h-1zM689 492h1v1h-1zM691 496h1v1h-1zM692 497h1v1h-1zM693 498h1v1h-1zM695 502h1v1h-1zM696 503h1v1h-1zM697 504h1v1h-1zM700 508h1v1h-1zM701 509h1v1h-1zM702 510h1v1h-1zM706 514h3v1h-3zM712 516h2v1h-2zM714 517h1v1h-1zM718 517h3v1h-3zM724 517h2v1h-2zM726 516h1v1h-1zM730 516h3v1h-3zM736 514h3v1h-3zM742 513h3v1h-3zM748 512h3v1h-3zM754 512h3v1h-3zM760 512h3v1h-3zM766 513h1v1h-1zM767 514h2v1h-2zM772 515h2v1h-2zM774 516h1v1h-1zM778 518h2v1h-2zM780 519h1v1h-1zM784 521h1v1h-1zM785 522h2v1h-2zM790 524h1v1h-1zM791 525h2v1h-2zM796 527h3v1h-3zM802 528h3v1h-3zM808 527h3v1h-3zM814 526h2v1h-2zM816 525h1v1h-1zM820 524h1v1h-1zM821 523h2v1h-2zM826 521h1v1h-1z"/>
<path shape-rendering="crispEdges" fill="#fff" d="M2 2h930v1h-930zM2 2h1v431h-1zM931 2h1v536h-1zM2 432h930v1h-930zM2 434h930v1h-930zM2 434h1v104h-1zM2 537h930v1h-930zM2 539h930v1h-930zM2 539h1v2h-1zM931 539h1v2h-1zM932 33h2v1h-2zM932 66h2v1h-2zM932 99h2v1h-2zM932 132h2v1h-2zM932 165h2v1h-2zM932 198h2v1h-2zM932 231h2v1h-2zM932 264h2v1h-2zM932 297h2v1h-2zM932 330h2v1h-2zM932 363h2v1h-2zM932 396h2v1h-2zM932 429h2v1h-2zM932 436h1v1h-1zM932 492h1v1h-1zM932 536h1v1h-1z"/>
<text transform="translate(937,37) rotate(0.03)" font-size="10" textLength="33" lengthAdjust="spacingAndGlyphs" >4362.40</text>
<text transform="translate(937,70) rotate(0.03)" font-size="10" textLength="33" lengthAdjust="spacingAndGlyphs" >4301.35</text>
<text transform="translate(937,103) rotate(0.03)" font-size="10" textLength="33" lengthAdjust="spacingAndGlyphs" >4238.45</text>
<text transform="translate(937,136) rotate(0.03)" font-size="10" textLength="33" lengthAdjust="spacingAndGlyphs" >4175.55</text>
<text transform="translate(937,169) rotate(0.03)" font-size="10" textLength="33" lengthAdjust="spacingAndGlyphs" >4112.65</text>
<text transform="translate(937,202) rotate(0.03)" font-size="10" textLength="33" lengthAdjust="spacingAndGlyphs" >4049.75</text>
<text transform="translate(937,235) rotate(0.03)" font-size="10" textLength="33" lengthAdjust="spacingAndGlyphs" >3986.85</text>
<text transform="translate(937,268) rotate(0.03)" font-size="10" textLength="33" lengthAdjust="spacingAndGlyphs" >3925.80</text>
<text transform="translate(937,301) rotate(0.03)" font-size="10" textLength="33" lengthAdjust="spacingAndGlyphs" >3862.90</text>
<text transform="translate(937,334) rotate(0.03)" font-size="10" textLength="33" lengthAdjust="spacingAndGlyphs" >3800.00</text>
<text transform="translate(937,367) rotate(0.03)" font-size="10" textLength="33" lengthAdjust="spacingAndGlyphs" >3737.10</text>
<text transform="translate(937,400) rotate(0.03)" font-size="10" textLength="33" lengthAdjust="spacingAndGlyphs" >3674.20</text>
<text transform="translate(937,433) rotate(0.03)" font-size="10" textLength="33" lengthAdjust="spacingAndGlyphs" >3613.15</text>
<rect x="933" y="236" width="41" height="11" fill="#fff" shape-rendering="crispEdges"/>
<text transform="translate(937,245) rotate(0.03)" font-size="10" textLength="33" lengthAdjust="spacingAndGlyphs" style="fill:#000;stroke:#000">3968.76</text>
<text transform="translate(935,445) rotate(0.03)" font-size="10" textLength="27.5" lengthAdjust="spacingAndGlyphs" >76.821</text>
<text transform="translate(935,496) rotate(0.03)" font-size="10" textLength="18" lengthAdjust="spacingAndGlyphs" >0.00</text>
<text transform="translate(935,534) rotate(0.03)" font-size="10" textLength="31" lengthAdjust="spacingAndGlyphs" >-60.744</text>
<path fill="#fff" shape-rendering="crispEdges" d="M6 9h7v1h-7zM7 10h5v1h-5zM8 11h3v1h-3zM9 12h1v1h-1z"/>
<text transform="translate(18,14) rotate(0.03)" font-size="10" textLength="30" lengthAdjust="spacingAndGlyphs" >LLG,H4</text>
<text transform="translate(54,14) rotate(0.03)" font-size="10" textLength="141" lengthAdjust="spacingAndGlyphs" >3963.27 3977.27 3955.79 3968.76</text>
<text transform="translate(7.5,447) rotate(0.03)" font-size="10" textLength="133.5" lengthAdjust="spacingAndGlyphs" >MACD(12,26,9) -33.742 -39.909</text>
<defs><linearGradient id="gtl" x1="0" y1="1" x2="1" y2="0"><stop offset="0" stop-color="#f0f0f0"/><stop offset="1" stop-color="#8c8c8c"/></linearGradient></defs>
<g>
<polygon points="889.6,506.9 877.0,519.5 881.4,519.5 889.6,511.3" fill="url(#gtl)"/>
<polygon points="889.6,506.9 902.2,519.5 897.8000000000001,519.5 889.6,511.3" fill="#6e6e6e"/>
<polygon points="889.6,532.1 877.0,519.5 881.4,519.5 889.6,527.7" fill="#e6d41c"/>
<polygon points="889.6,532.1 902.2,519.5 897.8000000000001,519.5 889.6,527.7" fill="#7a5a1e"/>
<polygon points="889.6,511.3 881.4,519.5 884.0,519.5 889.6,513.9" fill="#3a3a3a"/>
<polygon points="889.6,511.3 897.8000000000001,519.5 895.2,519.5 889.6,513.9" fill="#f4f4f4"/>
<polygon points="889.6,527.7 881.4,519.5 884.0,519.5 889.6,525.1" fill="#6a4a1c"/>
<polygon points="889.6,527.7 897.8000000000001,519.5 895.2,519.5 889.6,525.1" fill="#c4a42c"/>
<polygon points="889.6,513.9 895.2,519.5 889.6,525.1 884.0,519.5" fill="#000"/>
<polygon points="889.6,516.4 892.7,519.5 889.6,522.6 886.5,519.5" fill="none" stroke="#86b81e" stroke-width="1.3"/>
</g>
<text transform="translate(908,518) rotate(0.03)" font-size="10.5" font-weight="bold" textLength="58" lengthAdjust="spacingAndGlyphs" style="stroke-width:0.3px">SiNO SOUND</text>
<rect x="915.6" y="510.6" width="1.6" height="1.5" fill="#7ab51d"/>
<text x="908" y="527.6" font-size="9" font-weight="bold" style="fill:#e4e4e4;stroke:#e4e4e4;stroke-width:0.5px">漢</text>
<text x="924.6" y="527.6" font-size="9" font-weight="bold" style="fill:#e4e4e4;stroke:#e4e4e4;stroke-width:0.5px">聲</text>
<text x="941" y="527.6" font-size="9" font-weight="bold" style="fill:#e4e4e4;stroke:#e4e4e4;stroke-width:0.5px">集</text>
<text x="957.4" y="527.6" font-size="9" font-weight="bold" style="fill:#e4e4e4;stroke:#e4e4e4;stroke-width:0.5px">團</text>
</svg></body></html>
